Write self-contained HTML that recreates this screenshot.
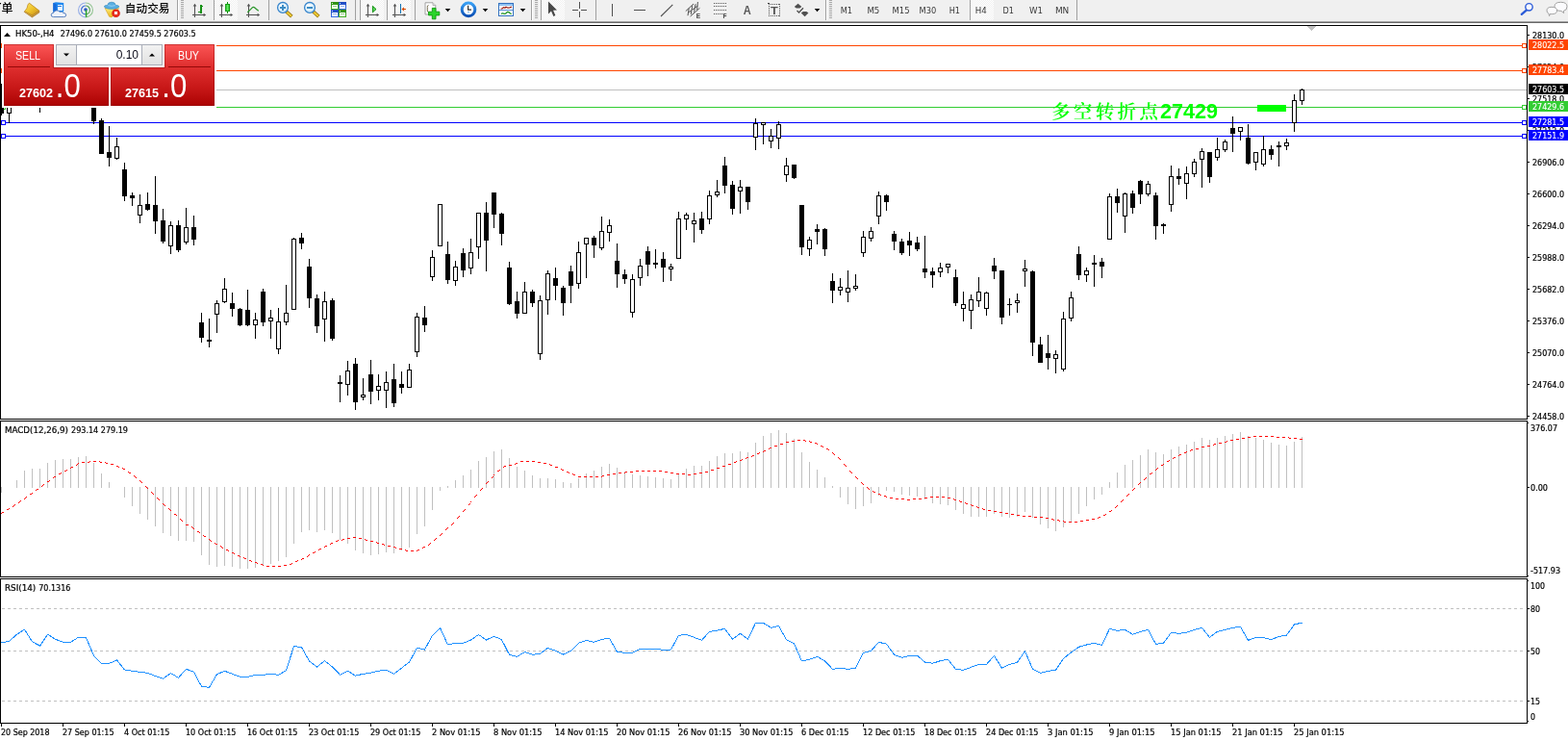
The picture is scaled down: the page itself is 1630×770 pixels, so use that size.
<!DOCTYPE html>
<html lang="zh"><head><meta charset="utf-8"><title>HK50-,H4</title>
<style>
html,body{margin:0;padding:0;background:#fff;width:1630px;height:770px;overflow:hidden}
svg{display:block;position:absolute;left:0;top:0}
svg text{font-family:"DejaVu Sans","Liberation Sans","Noto Sans CJK SC",sans-serif;white-space:pre}
svg text.lg{font-family:"Liberation Sans","Noto Sans CJK SC",sans-serif}
svg rect{shape-rendering:crispEdges}
</style></head><body>
<svg width="1630" height="770" viewBox="0 0 1630 770">
<g id="toolbar">
<defs><linearGradient id="gold" x1="0" y1="0" x2="1" y2="1"><stop offset="0" stop-color="#fbe36a"/><stop offset="0.5" stop-color="#eec32a"/><stop offset="1" stop-color="#c68a18"/></linearGradient><linearGradient id="yel" x1="0" y1="0" x2="0" y2="1"><stop offset="0" stop-color="#fff07a"/><stop offset="1" stop-color="#e9b21c"/></linearGradient><linearGradient id="grn" x1="0" y1="0" x2="1" y2="0"><stop offset="0" stop-color="#18b018"/><stop offset="0.5" stop-color="#6cf06c"/><stop offset="1" stop-color="#18b018"/></linearGradient><radialGradient id="lens" cx="0.4" cy="0.35" r="0.7"><stop offset="0" stop-color="#ffffff"/><stop offset="1" stop-color="#c4e6fa"/></radialGradient><linearGradient id="clk" x1="0" y1="0" x2="0" y2="1"><stop offset="0" stop-color="#3aa0f4"/><stop offset="1" stop-color="#0a4fb4"/></linearGradient><linearGradient id="blu" x1="0" y1="0" x2="0" y2="1"><stop offset="0" stop-color="#1c48c0"/><stop offset="1" stop-color="#3a6ee8"/></linearGradient><linearGradient id="grt" x1="0" y1="0" x2="0" y2="1"><stop offset="0" stop-color="#2c8c10"/><stop offset="1" stop-color="#46b028"/></linearGradient><pattern id="chk" width="2" height="2" patternUnits="userSpaceOnUse"><rect width="2" height="2" fill="#ffffff"/><rect width="1" height="1" fill="#f0f0f0"/><rect x="1" y="1" width="1" height="1" fill="#f0f0f0"/></pattern></defs>
<rect x="0" y="0" width="1630" height="22" fill="#f0f0f0"/>
<rect x="0" y="22" width="1630" height="1" fill="#a0a0a0"/>
<rect x="0" y="23" width="1630" height="1" fill="#696969"/>
<rect x="223" y="0" width="24" height="21" fill="url(#chk)"/>
<rect x="375" y="0" width="24" height="21" fill="url(#chk)"/>
<rect x="403" y="0" width="24" height="21" fill="url(#chk)"/>
<rect x="563" y="0" width="24" height="21" fill="url(#chk)"/>
<rect x="1009" y="0" width="24" height="21" fill="url(#chk)"/>
<rect x="184" y="0" width="1" height="21" fill="#a0a0a0"/>
<rect x="222" y="0" width="1" height="21" fill="#a0a0a0"/>
<rect x="279" y="0" width="1" height="21" fill="#a0a0a0"/>
<rect x="369" y="0" width="1" height="21" fill="#a0a0a0"/>
<rect x="374" y="0" width="1" height="21" fill="#a0a0a0"/>
<rect x="402" y="0" width="1" height="21" fill="#a0a0a0"/>
<rect x="431" y="0" width="1" height="21" fill="#a0a0a0"/>
<rect x="552" y="0" width="1" height="21" fill="#a0a0a0"/>
<rect x="562" y="0" width="1" height="21" fill="#a0a0a0"/>
<rect x="619" y="0" width="1" height="21" fill="#a0a0a0"/>
<rect x="858" y="0" width="1" height="21" fill="#a0a0a0"/>
<rect x="1008" y="0" width="1" height="21" fill="#a0a0a0"/>
<rect x="1119" y="0" width="1" height="21" fill="#a0a0a0"/>
<rect x="185" y="0" width="1" height="21" fill="#ffffff"/>
<rect x="553" y="0" width="1" height="21" fill="#ffffff"/>
<rect x="859" y="0" width="1" height="21" fill="#ffffff"/>
<rect x="188" y="0" width="3" height="1" fill="#a8a8a8"/>
<rect x="188" y="2" width="3" height="1" fill="#a8a8a8"/>
<rect x="188" y="4" width="3" height="1" fill="#a8a8a8"/>
<rect x="188" y="6" width="3" height="1" fill="#a8a8a8"/>
<rect x="188" y="8" width="3" height="1" fill="#a8a8a8"/>
<rect x="188" y="10" width="3" height="1" fill="#a8a8a8"/>
<rect x="188" y="12" width="3" height="1" fill="#a8a8a8"/>
<rect x="188" y="14" width="3" height="1" fill="#a8a8a8"/>
<rect x="188" y="16" width="3" height="1" fill="#a8a8a8"/>
<rect x="188" y="18" width="3" height="1" fill="#a8a8a8"/>
<rect x="556" y="0" width="3" height="1" fill="#a8a8a8"/>
<rect x="556" y="2" width="3" height="1" fill="#a8a8a8"/>
<rect x="556" y="4" width="3" height="1" fill="#a8a8a8"/>
<rect x="556" y="6" width="3" height="1" fill="#a8a8a8"/>
<rect x="556" y="8" width="3" height="1" fill="#a8a8a8"/>
<rect x="556" y="10" width="3" height="1" fill="#a8a8a8"/>
<rect x="556" y="12" width="3" height="1" fill="#a8a8a8"/>
<rect x="556" y="14" width="3" height="1" fill="#a8a8a8"/>
<rect x="556" y="16" width="3" height="1" fill="#a8a8a8"/>
<rect x="556" y="18" width="3" height="1" fill="#a8a8a8"/>
<rect x="862" y="0" width="3" height="1" fill="#a8a8a8"/>
<rect x="862" y="2" width="3" height="1" fill="#a8a8a8"/>
<rect x="862" y="4" width="3" height="1" fill="#a8a8a8"/>
<rect x="862" y="6" width="3" height="1" fill="#a8a8a8"/>
<rect x="862" y="8" width="3" height="1" fill="#a8a8a8"/>
<rect x="862" y="10" width="3" height="1" fill="#a8a8a8"/>
<rect x="862" y="12" width="3" height="1" fill="#a8a8a8"/>
<rect x="862" y="14" width="3" height="1" fill="#a8a8a8"/>
<rect x="862" y="16" width="3" height="1" fill="#a8a8a8"/>
<rect x="862" y="18" width="3" height="1" fill="#a8a8a8"/>
<text class="lg" x="13.4" y="12.5" font-size="12" font-weight="500" text-anchor="end" fill="#000">订单</text>
<text class="lg" x="129.8" y="12.5" font-size="11.6" font-weight="500" fill="#000" textLength="46.6" lengthAdjust="spacing">自动交易</text>
<path d="M30.6 3.4 L40.8 11.2 L40.8 13 L33.4 18 L25.3 12.4 Q28.6 9.4 29.4 4.2 Z" fill="#a87214" stroke="#a87214" stroke-width="0.6" stroke-linejoin="round"/>
<path d="M30.6 3.4 L40.6 11 L33.4 15.8 L25.6 11.6 Q28.6 9 29.4 4.2 Z" fill="url(#gold)" stroke="#c89628" stroke-width="0.5"/>
<path d="M26.2 12.6 L33.4 16.9 L40.4 12.4" fill="none" stroke="#e6c468" stroke-width="0.6"/>
<path d="M55.3 3 L58 2.3 L66.2 3 L66.2 12.5 L55.3 12.5 Z" fill="#1e88f0"/>
<path d="M55.3 3 L58.5 4.3 L58.5 12.5 L55.3 12.5 Z" fill="#1668d8"/>
<rect x="59.5" y="5.2" width="5.8" height="6" fill="#e8f4ff"/>
<rect x="60.3" y="6.2" width="4" height="1.2" fill="#2a7ae0"/>
<path d="M55.5 17.6 Q53 17.6 53.2 15.3 Q53.5 13.4 55.6 13.4 Q56 11.2 58.6 10.9 Q61 10.6 62.2 12.4 Q64.5 11.5 65.6 13.4 Q68.8 13.4 68.7 15.8 Q68.5 17.6 66.5 17.6 Z" fill="#eef3fb" stroke="#4a74b8" stroke-width="0.9"/>
<g fill="none" stroke-width="1.2"><path d="M89 3 A7.4 7.4 0 0 0 89 17.8" stroke="#7a9ae4" opacity="0.75"/><path d="M89 3 A7.4 7.4 0 0 1 89 17.8" stroke="#7ab87a" opacity="0.75"/><path d="M89 6 A4.4 4.4 0 0 0 89 14.8" stroke="#4470d4"/><path d="M89 6 A4.4 4.4 0 0 1 89 14.8" stroke="#58a858"/></g>
<circle cx="89" cy="10" r="1.8" fill="#2858c8"/>
<path d="M89.6 10.4 V17.8" stroke="#28a428" stroke-width="1.5" fill="none"/>
<path d="M109 8.2 L123.4 8.2 L122 12.5 L116 17.9 L113.6 17.3 Z" fill="url(#yel)" stroke="#d8a018" stroke-width="0.6"/>
<path d="M108.3 7 Q108.3 5.4 111.6 5.6 Q112.2 2.2 116 2.2 Q119.8 2.2 120.4 5.6 Q123.8 5.4 123.8 7 Q122 9.3 116 9.3 Q110 9.3 108.3 7 Z" fill="#5aaee2" stroke="#3a8cc0" stroke-width="0.7"/>
<path d="M112.4 5.6 Q116 7 119.8 5.6" fill="none" stroke="#9ad4f4" stroke-width="0.9"/>
<circle cx="120.5" cy="13.8" r="4.3" fill="#d81c0c"/>
<circle cx="120.5" cy="13.8" r="3.6" fill="#e83020"/>
<rect x="119" y="12.3" width="3" height="3" fill="#ffffff"/>
<g fill="#505050"><rect x="202" y="5" width="1" height="13"/><rect x="200" y="15" width="13" height="1"/><path d="M202.5 3.8 L204.3 6.4 L200.7 6.4 Z"/><path d="M214.2 15.5 L211.6 13.7 L211.6 17.3 Z"/></g>
<g fill="#159015"><rect x="208" y="5.3" width="1.5" height="8.5"/><rect x="208" y="5.8" width="3.3" height="1.2"/><rect x="206" y="12" width="3" height="1.2"/></g>
<g fill="#505050"><rect x="230" y="5" width="1" height="13"/><rect x="228" y="15" width="13" height="1"/><path d="M230.5 3.8 L232.3 6.4 L228.7 6.4 Z"/><path d="M242.2 15.5 L239.6 13.7 L239.6 17.3 Z"/></g>
<rect x="236" y="2.2" width="1.2" height="11.6" fill="#109010"/>
<rect x="234.6" y="4.2" width="4" height="7.4" fill="url(#grn)" stroke="#0e980e" stroke-width="0.9"/>
<g fill="#505050"><rect x="258" y="5" width="1" height="13"/><rect x="256" y="15" width="13" height="1"/><path d="M258.5 3.8 L260.3 6.4 L256.7 6.4 Z"/><path d="M270.2 15.5 L267.6 13.7 L267.6 17.3 Z"/></g>
<path d="M257.3 12.8 Q260 10.5 262 8.2 Q263.4 6.8 264.8 8 Q266.8 10 268.8 11.3" fill="none" stroke="#2a962a" stroke-width="1.2"/>
<path d="M297.6 12.0 L303.3 17.2" stroke="#8a6a10" stroke-width="3.6" stroke-linecap="butt"/>
<path d="M298.2 12.6 L303 16.9" stroke="#ecc832" stroke-width="2.2"/>
<circle cx="294" cy="7.9" r="5.4" fill="url(#lens)" stroke="#3a86cc" stroke-width="1.3"/>
<rect x="290.7" y="7" width="6.6" height="1.8" fill="#3d8cc4"/>
<rect x="293.1" y="4.6" width="1.8" height="6.6" fill="#3d8cc4"/>
<path d="M325.6 12.0 L331.3 17.2" stroke="#8a6a10" stroke-width="3.6" stroke-linecap="butt"/>
<path d="M326.2 12.6 L331 16.9" stroke="#ecc832" stroke-width="2.2"/>
<circle cx="322" cy="7.9" r="5.4" fill="url(#lens)" stroke="#3a86cc" stroke-width="1.3"/>
<rect x="318.7" y="7" width="6.6" height="1.8" fill="#3d8cc4"/>
<rect x="344" y="2" width="8" height="8" fill="url(#grt)"/>
<rect x="345.3" y="5" width="5.6" height="4" fill="#ffffff"/>
<rect x="346.2" y="6" width="3.8" height="1" fill="#9ad088"/>
<rect x="345" y="3" width="1" height="1" fill="#ffffff" opacity="0.8"/>
<rect x="352" y="2" width="8" height="8" fill="url(#blu)"/>
<rect x="353.3" y="5" width="5.6" height="4" fill="#ffffff"/>
<rect x="354.2" y="6" width="3.8" height="1" fill="#9ab4f0"/>
<rect x="353" y="3" width="1" height="1" fill="#ffffff" opacity="0.8"/>
<rect x="344" y="10" width="8" height="8" fill="url(#blu)"/>
<rect x="345.3" y="13" width="5.6" height="4" fill="#ffffff"/>
<rect x="346.2" y="14" width="3.8" height="1" fill="#9ab4f0"/>
<rect x="345" y="11" width="1" height="1" fill="#ffffff" opacity="0.8"/>
<rect x="352" y="10" width="8" height="8" fill="url(#grt)"/>
<rect x="353.3" y="13" width="5.6" height="4" fill="#ffffff"/>
<rect x="354.2" y="14" width="3.8" height="1" fill="#9ad088"/>
<rect x="353" y="11" width="1" height="1" fill="#ffffff" opacity="0.8"/>
<g fill="#505050"><rect x="382" y="5" width="1" height="13"/><rect x="380" y="15" width="13" height="1"/><path d="M382.5 3.8 L384.3 6.4 L380.7 6.4 Z"/><path d="M394.2 15.5 L391.6 13.7 L391.6 17.3 Z"/></g>
<path d="M387.4 6.3 L391 9.6 L387.4 12.8 Z" fill="#5cd85c" stroke="#109010" stroke-width="1"/>
<g fill="#505050"><rect x="410" y="5" width="1" height="13"/><rect x="408" y="15" width="13" height="1"/><path d="M410.5 3.8 L412.3 6.4 L408.7 6.4 Z"/><path d="M422.2 15.5 L419.6 13.7 L419.6 17.3 Z"/></g>
<rect x="416" y="4" width="1.2" height="10" fill="#1070b0"/>
<path d="M417.4 9.5 L420.2 7.2 L419.8 9 L422 9 L422 10 L419.8 10 L420.2 11.8 Z" fill="#d84800"/>
<path d="M462.7 9 L468.3 9 L465.5 12.2 Z" fill="#000"/>
<path d="M501.7 9 L507.3 9 L504.5 12.2 Z" fill="#000"/>
<path d="M540.7 9 L546.3 9 L543.5 12.2 Z" fill="#000"/>
<path d="M846.7 9 L852.3 9 L849.5 12.2 Z" fill="#000"/>
<path d="M442 2.8 L450 2.8 L452.8 5.6 L452.8 15 L442 15 Z" fill="#fdfdfd" stroke="#9a9a9a" stroke-width="0.9"/>
<path d="M450 2.8 L450 5.6 L452.8 5.6" fill="#e8e8e8" stroke="#9a9a9a" stroke-width="0.7"/>
<path d="M445.5 5.5 Q444 5.5 444.3 7.5 L444.3 11 Q444.3 12.6 445.8 12.6" fill="none" stroke="#6a6040" stroke-width="0.9"/>
<path d="M449.3 8.4 H453 V12.2 H456.8 V15.9 H453 V19.8 H449.3 V15.9 H445.5 V12.2 H449.3 Z" fill="#2ad42a" stroke="#0e9a0e" stroke-width="0.9"/>
<circle cx="487" cy="9.9" r="6.8" fill="#ffffff" stroke="url(#clk)" stroke-width="3"/>
<path d="M486.6 5.8 V10.2 H490" fill="none" stroke="#303030" stroke-width="1.2"/>
<rect x="485.6" y="12.2" width="2.6" height="0.9" fill="#80b8f0"/>
<rect x="518.5" y="3.3" width="15.4" height="13.4" fill="#ffffff" stroke="#3572c0" stroke-width="1.1"/>
<rect x="519" y="3.8" width="14.4" height="2" fill="#8ec0f0"/>
<rect x="519" y="10.2" width="14.4" height="1.2" fill="#5a90d8"/>
<path d="M520.5 9 L522 9 L523.5 7.6 L525 8.2 L526 7.2 L528 8.2 L530 7.8 L532 7" fill="none" stroke="#9a1a10" stroke-width="1.2"/>
<path d="M521 14.4 L522.6 13.8 L524 14.4 L525.6 14.2 L527.4 12.4 L529 12.6 L530.4 14 L531.8 14.4" fill="none" stroke="#189018" stroke-width="1.2"/>
<path d="M570 1.6 L570 14.4 L573 11.6 L575.4 17 L577.4 16 L575 10.8 L579 10.6 Z" fill="#484848"/>
<g fill="#505050"><rect x="602" y="1.6" width="1" height="7"/><rect x="602" y="11.6" width="1" height="6.6"/><rect x="595" y="9.8" width="6" height="1"/><rect x="604" y="9.8" width="6" height="1"/></g>
<rect x="636" y="4" width="1" height="13" fill="#505050"/>
<rect x="659" y="10" width="12" height="1" fill="#505050"/>
<path d="M687 17 L699.3 4.8" stroke="#505050" stroke-width="1.1" fill="none"/>
<g stroke="#505050" fill="none" stroke-width="1"><path d="M712.8 11.6 L721 4"/><path d="M717.6 17 L727.4 8.4"/><path d="M715 16.2 L716.2 8.6"/><path d="M718.3 14.8 L719.6 6.2"/><path d="M721.6 12.6 L723 4.2"/><path d="M724.6 10.4 L725.4 2"/><path d="M716 12.5 L718.6 11.2 M719.4 10.2 L722 8.6 M722.8 7.8 L725.2 6.2"/></g>
<text x="723.8" y="18.8" class="lg" font-size="6.5" font-weight="bold" fill="#404040">E</text>
<rect x="742" y="3" width="1" height="1" fill="#505050"/>
<rect x="744" y="3" width="1" height="1" fill="#505050"/>
<rect x="746" y="3" width="1" height="1" fill="#505050"/>
<rect x="748" y="3" width="1" height="1" fill="#505050"/>
<rect x="750" y="3" width="1" height="1" fill="#505050"/>
<rect x="752" y="3" width="1" height="1" fill="#505050"/>
<rect x="754" y="3" width="1" height="1" fill="#505050"/>
<rect x="742" y="6" width="1" height="1" fill="#505050"/>
<rect x="744" y="6" width="1" height="1" fill="#505050"/>
<rect x="746" y="6" width="1" height="1" fill="#505050"/>
<rect x="748" y="6" width="1" height="1" fill="#505050"/>
<rect x="750" y="6" width="1" height="1" fill="#505050"/>
<rect x="752" y="6" width="1" height="1" fill="#505050"/>
<rect x="754" y="6" width="1" height="1" fill="#505050"/>
<rect x="742" y="10" width="1" height="1" fill="#505050"/>
<rect x="744" y="10" width="1" height="1" fill="#505050"/>
<rect x="746" y="10" width="1" height="1" fill="#505050"/>
<rect x="748" y="10" width="1" height="1" fill="#505050"/>
<rect x="750" y="10" width="1" height="1" fill="#505050"/>
<rect x="752" y="10" width="1" height="1" fill="#505050"/>
<rect x="754" y="10" width="1" height="1" fill="#505050"/>
<rect x="742" y="14" width="1" height="1" fill="#505050"/>
<rect x="744" y="14" width="1" height="1" fill="#505050"/>
<rect x="746" y="14" width="1" height="1" fill="#505050"/>
<rect x="748" y="14" width="1" height="1" fill="#505050"/>
<rect x="750" y="14" width="1" height="1" fill="#505050"/>
<text x="751.6" y="18.8" class="lg" font-size="6.5" font-weight="bold" fill="#404040">F</text>
<text class="lg" x="776.7" y="14.8" font-size="12" font-weight="bold" text-anchor="middle" fill="#585858" textLength="8" lengthAdjust="spacingAndGlyphs">A</text>
<rect x="799" y="4" width="1" height="1" fill="#505050"/><rect x="799" y="16" width="1" height="1" fill="#505050"/>
<rect x="801" y="4" width="1" height="1" fill="#505050"/><rect x="801" y="16" width="1" height="1" fill="#505050"/>
<rect x="803" y="4" width="1" height="1" fill="#505050"/><rect x="803" y="16" width="1" height="1" fill="#505050"/>
<rect x="805" y="4" width="1" height="1" fill="#505050"/><rect x="805" y="16" width="1" height="1" fill="#505050"/>
<rect x="807" y="4" width="1" height="1" fill="#505050"/><rect x="807" y="16" width="1" height="1" fill="#505050"/>
<rect x="809" y="4" width="1" height="1" fill="#505050"/><rect x="809" y="16" width="1" height="1" fill="#505050"/>
<rect x="799" y="4" width="1" height="1" fill="#505050"/><rect x="810" y="4" width="1" height="1" fill="#505050"/>
<rect x="799" y="6" width="1" height="1" fill="#505050"/><rect x="810" y="6" width="1" height="1" fill="#505050"/>
<rect x="799" y="8" width="1" height="1" fill="#505050"/><rect x="810" y="8" width="1" height="1" fill="#505050"/>
<rect x="799" y="10" width="1" height="1" fill="#505050"/><rect x="810" y="10" width="1" height="1" fill="#505050"/>
<rect x="799" y="12" width="1" height="1" fill="#505050"/><rect x="810" y="12" width="1" height="1" fill="#505050"/>
<rect x="799" y="14" width="1" height="1" fill="#505050"/><rect x="810" y="14" width="1" height="1" fill="#505050"/>
<rect x="799" y="16" width="1" height="1" fill="#505050"/><rect x="810" y="16" width="1" height="1" fill="#505050"/>
<rect x="798" y="3" width="2" height="1.3" fill="#404040"/>
<text class="lg" x="804.9" y="14.8" font-size="11" font-weight="bold" text-anchor="middle" fill="#555555" textLength="7.8" lengthAdjust="spacingAndGlyphs">T</text>
<g fill="#505050"><path d="M829.6 3.8 L833.4 7 L831.4 8.4 L827.8 8.4 L825.8 7 Z"/><path d="M836.6 17.2 L840.4 13.4 L838.4 12 L834.8 12 L832.8 13.4 Z"/></g>
<path d="M828.5 11 L830.5 13 L835 8.2" fill="none" stroke="#505050" stroke-width="1.3"/>
<text x="873.7" y="13.8" font-size="8" fill="#3a3a3a" textLength="12.3" lengthAdjust="spacingAndGlyphs">M1</text>
<text x="901.4" y="13.8" font-size="8" fill="#3a3a3a" textLength="13" lengthAdjust="spacingAndGlyphs">M5</text>
<text x="927.5" y="13.8" font-size="8" fill="#3a3a3a" textLength="18" lengthAdjust="spacingAndGlyphs">M15</text>
<text x="955.5" y="13.8" font-size="8" fill="#3a3a3a" textLength="17.7" lengthAdjust="spacingAndGlyphs">M30</text>
<text x="986.7" y="13.8" font-size="8" fill="#3a3a3a" textLength="11.3" lengthAdjust="spacingAndGlyphs">H1</text>
<text x="1013.8" y="13.8" font-size="8" fill="#3a3a3a" textLength="12" lengthAdjust="spacingAndGlyphs">H4</text>
<text x="1042.6" y="13.8" font-size="8" fill="#3a3a3a" textLength="11.4" lengthAdjust="spacingAndGlyphs">D1</text>
<text x="1070" y="13.8" font-size="8" fill="#3a3a3a" textLength="14" lengthAdjust="spacingAndGlyphs">W1</text>
<text x="1096.9" y="13.8" font-size="8" fill="#3a3a3a" textLength="14.4" lengthAdjust="spacingAndGlyphs">MN</text>
<path d="M1587.3 10.2 L1581.8 14.8" stroke="#2c5cd8" stroke-width="2.4" stroke-linecap="round"/>
<circle cx="1589.5" cy="7.3" r="3.7" fill="#f8f8ff" stroke="#2c5cd8" stroke-width="1.4"/>
<path d="M1616 6.5 Q1616 2.3 1622.5 2.3 Q1629 2.3 1629 6.8 Q1629 10.8 1625.5 11.2 L1625.6 13.6 L1623 11.4 Q1616 11.4 1616 6.5 Z" fill="#fbfbfd" stroke="#989898" stroke-width="0.9"/>
<path d="M1608 11 Q1608 7.3 1613 7.3 Q1618.5 7.3 1618.5 11 Q1618.5 14.6 1613.5 14.6 L1611.2 14.6 L1610.6 16.6 L1610 14.2 Q1608 13.4 1608 11 Z" fill="#fbfbfd" stroke="#989898" stroke-width="0.9"/>
</g>
<g id="borders" fill="#000">
<rect x="0" y="26" width="1588" height="1" fill="#000"/>
<rect x="0" y="435" width="1588" height="1" fill="#000"/>
<rect x="0" y="26" width="1" height="410" fill="#000"/>
<rect x="1587" y="26" width="1" height="410" fill="#000"/>
<rect x="0" y="437" width="1588" height="1" fill="#000"/>
<rect x="0" y="599" width="1588" height="1" fill="#000"/>
<rect x="0" y="437" width="1" height="163" fill="#000"/>
<rect x="1587" y="437" width="1" height="163" fill="#000"/>
<rect x="0" y="601" width="1588" height="1" fill="#000"/>
<rect x="0" y="751" width="1588" height="1" fill="#000"/>
<rect x="0" y="601" width="1" height="151" fill="#000"/>
<rect x="1587" y="601" width="1" height="151" fill="#000"/>
</g>
<g id="hlines">
<rect x="1" y="47" width="1586" height="1" fill="#ff4500"/>
<rect x="1" y="45" width="5" height="5" fill="#ff4500"/>
<rect x="2" y="46" width="3" height="3" fill="#fff"/>
<rect x="1582" y="45" width="5" height="5" fill="#ff4500"/>
<rect x="1583" y="46" width="3" height="3" fill="#fff"/>
<rect x="1" y="73" width="1586" height="1" fill="#ff4500"/>
<rect x="1" y="71" width="5" height="5" fill="#ff4500"/>
<rect x="2" y="72" width="3" height="3" fill="#fff"/>
<rect x="1582" y="71" width="5" height="5" fill="#ff4500"/>
<rect x="1583" y="72" width="3" height="3" fill="#fff"/>
<rect x="1" y="111" width="1586" height="1" fill="#32cd32"/>
<rect x="1" y="109" width="5" height="5" fill="#32cd32"/>
<rect x="2" y="110" width="3" height="3" fill="#fff"/>
<rect x="1582" y="109" width="5" height="5" fill="#32cd32"/>
<rect x="1583" y="110" width="3" height="3" fill="#fff"/>
<rect x="1" y="127" width="1586" height="1" fill="#0000ff"/>
<rect x="1" y="125" width="5" height="5" fill="#0000ff"/>
<rect x="2" y="126" width="3" height="3" fill="#fff"/>
<rect x="1582" y="125" width="5" height="5" fill="#0000ff"/>
<rect x="1583" y="126" width="3" height="3" fill="#fff"/>
<rect x="1" y="141" width="1586" height="1" fill="#0000ff"/>
<rect x="1" y="139" width="5" height="5" fill="#0000ff"/>
<rect x="2" y="140" width="3" height="3" fill="#fff"/>
<rect x="1582" y="139" width="5" height="5" fill="#0000ff"/>
<rect x="1583" y="140" width="3" height="3" fill="#fff"/>
</g>
<rect x="1359" y="27" width="9" height="1" fill="#c0c0c0"/>
<rect x="1360" y="28" width="7" height="1" fill="#c0c0c0"/>
<rect x="1361" y="29" width="5" height="1" fill="#c0c0c0"/>
<rect x="1362" y="30" width="3" height="1" fill="#c0c0c0"/>
<rect x="1363" y="31" width="1" height="1" fill="#c0c0c0"/>
<rect x="1307" y="109" width="30" height="7" fill="#00ff00"/>
<text x="1093" y="122.5" font-size="19.5" font-weight="600" fill="#00ff00" style="font-family:'Liberation Serif','Noto Serif CJK SC',serif" letter-spacing="3.35">多空转折点</text>
<text class="lg" x="1206" y="123" font-size="21.5" font-weight="bold" fill="#00ff00" textLength="60" lengthAdjust="spacingAndGlyphs">27429</text>
<rect x="1" y="93" width="1586" height="1" fill="#c0c0c0"/>
<g id="candles">
<rect x="1" y="87" width="1" height="33" fill="#000"/>
<rect x="-1" y="87" width="5" height="31" fill="#000"/>
<rect x="9" y="100" width="1" height="28" fill="#000"/>
<rect x="7" y="105" width="5" height="13" fill="#000"/>
<rect x="8" y="106" width="3" height="11" fill="#fff"/>
<rect x="41" y="100" width="1" height="17" fill="#000"/>
<rect x="39" y="102" width="5" height="6" fill="#000"/>
<rect x="97" y="100" width="1" height="29" fill="#000"/>
<rect x="95" y="104" width="5" height="22" fill="#000"/>
<rect x="105" y="123" width="1" height="37" fill="#000"/>
<rect x="103" y="125" width="5" height="35" fill="#000"/>
<rect x="113" y="131" width="1" height="42" fill="#000"/>
<rect x="111" y="158" width="5" height="6" fill="#000"/>
<rect x="121" y="143" width="1" height="23" fill="#000"/>
<rect x="119" y="152" width="5" height="13" fill="#000"/>
<rect x="120" y="153" width="3" height="11" fill="#fff"/>
<rect x="129" y="169" width="1" height="40" fill="#000"/>
<rect x="127" y="176" width="5" height="28" fill="#000"/>
<rect x="137" y="200" width="1" height="14" fill="#000"/>
<rect x="135" y="203" width="5" height="3" fill="#000"/>
<rect x="145" y="202" width="1" height="30" fill="#000"/>
<rect x="143" y="213" width="5" height="11" fill="#000"/>
<rect x="144" y="214" width="3" height="9" fill="#fff"/>
<rect x="153" y="200" width="1" height="19" fill="#000"/>
<rect x="151" y="212" width="5" height="6" fill="#000"/>
<rect x="161" y="183" width="1" height="60" fill="#000"/>
<rect x="159" y="213" width="5" height="17" fill="#000"/>
<rect x="169" y="217" width="1" height="36" fill="#000"/>
<rect x="167" y="229" width="5" height="22" fill="#000"/>
<rect x="177" y="230" width="1" height="34" fill="#000"/>
<rect x="175" y="234" width="5" height="22" fill="#000"/>
<rect x="176" y="235" width="3" height="20" fill="#fff"/>
<rect x="185" y="229" width="1" height="33" fill="#000"/>
<rect x="183" y="234" width="5" height="26" fill="#000"/>
<rect x="193" y="216" width="1" height="38" fill="#000"/>
<rect x="191" y="236" width="5" height="16" fill="#000"/>
<rect x="192" y="237" width="3" height="14" fill="#fff"/>
<rect x="201" y="224" width="1" height="31" fill="#000"/>
<rect x="199" y="236" width="5" height="13" fill="#000"/>
<rect x="209" y="325" width="1" height="31" fill="#000"/>
<rect x="207" y="335" width="5" height="16" fill="#000"/>
<rect x="217" y="331" width="1" height="30" fill="#000"/>
<rect x="215" y="353" width="5" height="2" fill="#000"/>
<rect x="225" y="312" width="1" height="34" fill="#000"/>
<rect x="223" y="315" width="5" height="12" fill="#000"/>
<rect x="224" y="316" width="3" height="10" fill="#fff"/>
<rect x="233" y="289" width="1" height="26" fill="#000"/>
<rect x="231" y="300" width="5" height="14" fill="#000"/>
<rect x="232" y="301" width="3" height="12" fill="#fff"/>
<rect x="241" y="304" width="1" height="25" fill="#000"/>
<rect x="239" y="315" width="5" height="6" fill="#000"/>
<rect x="249" y="320" width="1" height="19" fill="#000"/>
<rect x="247" y="321" width="5" height="17" fill="#000"/>
<rect x="257" y="301" width="1" height="38" fill="#000"/>
<rect x="255" y="322" width="5" height="16" fill="#000"/>
<rect x="265" y="325" width="1" height="27" fill="#000"/>
<rect x="263" y="332" width="5" height="6" fill="#000"/>
<rect x="264" y="333" width="3" height="4" fill="#fff"/>
<rect x="273" y="300" width="1" height="39" fill="#000"/>
<rect x="271" y="303" width="5" height="32" fill="#000"/>
<rect x="281" y="322" width="1" height="30" fill="#000"/>
<rect x="279" y="330" width="5" height="4" fill="#000"/>
<rect x="280" y="331" width="3" height="2" fill="#fff"/>
<rect x="289" y="320" width="1" height="48" fill="#000"/>
<rect x="287" y="334" width="5" height="29" fill="#000"/>
<rect x="288" y="335" width="3" height="27" fill="#fff"/>
<rect x="297" y="296" width="1" height="42" fill="#000"/>
<rect x="295" y="325" width="5" height="10" fill="#000"/>
<rect x="296" y="326" width="3" height="8" fill="#fff"/>
<rect x="305" y="247" width="1" height="75" fill="#000"/>
<rect x="303" y="248" width="5" height="74" fill="#000"/>
<rect x="304" y="249" width="3" height="72" fill="#fff"/>
<rect x="313" y="242" width="1" height="17" fill="#000"/>
<rect x="311" y="247" width="5" height="6" fill="#000"/>
<rect x="321" y="269" width="1" height="51" fill="#000"/>
<rect x="319" y="277" width="5" height="33" fill="#000"/>
<rect x="329" y="306" width="1" height="40" fill="#000"/>
<rect x="327" y="310" width="5" height="29" fill="#000"/>
<rect x="337" y="303" width="1" height="52" fill="#000"/>
<rect x="335" y="313" width="5" height="19" fill="#000"/>
<rect x="336" y="314" width="3" height="17" fill="#fff"/>
<rect x="345" y="310" width="1" height="44" fill="#000"/>
<rect x="343" y="312" width="5" height="40" fill="#000"/>
<rect x="353" y="390" width="1" height="28" fill="#000"/>
<rect x="351" y="397" width="5" height="2" fill="#000"/>
<rect x="361" y="375" width="1" height="36" fill="#000"/>
<rect x="359" y="385" width="5" height="15" fill="#000"/>
<rect x="360" y="386" width="3" height="13" fill="#fff"/>
<rect x="369" y="372" width="1" height="54" fill="#000"/>
<rect x="367" y="378" width="5" height="40" fill="#000"/>
<rect x="377" y="393" width="1" height="23" fill="#000"/>
<rect x="375" y="410" width="5" height="3" fill="#000"/>
<rect x="376" y="411" width="3" height="1" fill="#fff"/>
<rect x="385" y="374" width="1" height="46" fill="#000"/>
<rect x="383" y="389" width="5" height="18" fill="#000"/>
<rect x="393" y="389" width="1" height="27" fill="#000"/>
<rect x="391" y="401" width="5" height="5" fill="#000"/>
<rect x="392" y="402" width="3" height="3" fill="#fff"/>
<rect x="401" y="386" width="1" height="38" fill="#000"/>
<rect x="399" y="397" width="5" height="9" fill="#000"/>
<rect x="400" y="398" width="3" height="7" fill="#fff"/>
<rect x="409" y="378" width="1" height="45" fill="#000"/>
<rect x="407" y="394" width="5" height="25" fill="#000"/>
<rect x="417" y="386" width="1" height="23" fill="#000"/>
<rect x="415" y="399" width="5" height="4" fill="#000"/>
<rect x="425" y="378" width="1" height="25" fill="#000"/>
<rect x="423" y="384" width="5" height="19" fill="#000"/>
<rect x="424" y="385" width="3" height="17" fill="#fff"/>
<rect x="433" y="325" width="1" height="46" fill="#000"/>
<rect x="431" y="329" width="5" height="37" fill="#000"/>
<rect x="432" y="330" width="3" height="35" fill="#fff"/>
<rect x="441" y="318" width="1" height="27" fill="#000"/>
<rect x="439" y="330" width="5" height="8" fill="#000"/>
<rect x="449" y="260" width="1" height="32" fill="#000"/>
<rect x="447" y="267" width="5" height="21" fill="#000"/>
<rect x="448" y="268" width="3" height="19" fill="#fff"/>
<rect x="457" y="212" width="1" height="44" fill="#000"/>
<rect x="455" y="212" width="5" height="44" fill="#000"/>
<rect x="456" y="213" width="3" height="42" fill="#fff"/>
<rect x="465" y="251" width="1" height="44" fill="#000"/>
<rect x="463" y="264" width="5" height="27" fill="#000"/>
<rect x="473" y="271" width="1" height="26" fill="#000"/>
<rect x="471" y="277" width="5" height="15" fill="#000"/>
<rect x="472" y="278" width="3" height="13" fill="#fff"/>
<rect x="481" y="258" width="1" height="30" fill="#000"/>
<rect x="479" y="263" width="5" height="18" fill="#000"/>
<rect x="489" y="248" width="1" height="37" fill="#000"/>
<rect x="487" y="262" width="5" height="17" fill="#000"/>
<rect x="488" y="263" width="3" height="15" fill="#fff"/>
<rect x="497" y="221" width="1" height="48" fill="#000"/>
<rect x="495" y="221" width="5" height="36" fill="#000"/>
<rect x="496" y="222" width="3" height="34" fill="#fff"/>
<rect x="505" y="210" width="1" height="72" fill="#000"/>
<rect x="503" y="221" width="5" height="29" fill="#000"/>
<rect x="513" y="200" width="1" height="37" fill="#000"/>
<rect x="511" y="200" width="5" height="23" fill="#000"/>
<rect x="521" y="221" width="1" height="34" fill="#000"/>
<rect x="519" y="222" width="5" height="21" fill="#000"/>
<rect x="529" y="272" width="1" height="45" fill="#000"/>
<rect x="527" y="278" width="5" height="38" fill="#000"/>
<rect x="537" y="303" width="1" height="28" fill="#000"/>
<rect x="535" y="313" width="5" height="13" fill="#000"/>
<rect x="545" y="293" width="1" height="33" fill="#000"/>
<rect x="543" y="303" width="5" height="23" fill="#000"/>
<rect x="544" y="304" width="3" height="21" fill="#fff"/>
<rect x="553" y="301" width="1" height="18" fill="#000"/>
<rect x="551" y="303" width="5" height="12" fill="#000"/>
<rect x="561" y="307" width="1" height="67" fill="#000"/>
<rect x="559" y="312" width="5" height="56" fill="#000"/>
<rect x="560" y="313" width="3" height="54" fill="#fff"/>
<rect x="569" y="281" width="1" height="46" fill="#000"/>
<rect x="567" y="284" width="5" height="28" fill="#000"/>
<rect x="568" y="285" width="3" height="26" fill="#fff"/>
<rect x="577" y="278" width="1" height="34" fill="#000"/>
<rect x="575" y="289" width="5" height="8" fill="#000"/>
<rect x="585" y="297" width="1" height="31" fill="#000"/>
<rect x="583" y="299" width="5" height="16" fill="#000"/>
<rect x="593" y="276" width="1" height="39" fill="#000"/>
<rect x="591" y="282" width="5" height="15" fill="#000"/>
<rect x="601" y="251" width="1" height="49" fill="#000"/>
<rect x="599" y="262" width="5" height="33" fill="#000"/>
<rect x="600" y="263" width="3" height="31" fill="#fff"/>
<rect x="609" y="247" width="1" height="42" fill="#000"/>
<rect x="607" y="247" width="5" height="7" fill="#000"/>
<rect x="608" y="248" width="3" height="5" fill="#fff"/>
<rect x="617" y="245" width="1" height="23" fill="#000"/>
<rect x="615" y="247" width="5" height="8" fill="#000"/>
<rect x="625" y="225" width="1" height="35" fill="#000"/>
<rect x="623" y="240" width="5" height="18" fill="#000"/>
<rect x="624" y="241" width="3" height="16" fill="#fff"/>
<rect x="633" y="228" width="1" height="23" fill="#000"/>
<rect x="631" y="234" width="5" height="8" fill="#000"/>
<rect x="632" y="235" width="3" height="6" fill="#fff"/>
<rect x="641" y="253" width="1" height="46" fill="#000"/>
<rect x="639" y="271" width="5" height="14" fill="#000"/>
<rect x="649" y="280" width="1" height="15" fill="#000"/>
<rect x="647" y="285" width="5" height="5" fill="#000"/>
<rect x="657" y="285" width="1" height="45" fill="#000"/>
<rect x="655" y="290" width="5" height="35" fill="#000"/>
<rect x="656" y="291" width="3" height="33" fill="#fff"/>
<rect x="665" y="269" width="1" height="28" fill="#000"/>
<rect x="663" y="276" width="5" height="13" fill="#000"/>
<rect x="664" y="277" width="3" height="11" fill="#fff"/>
<rect x="673" y="256" width="1" height="31" fill="#000"/>
<rect x="671" y="261" width="5" height="14" fill="#000"/>
<rect x="681" y="259" width="1" height="20" fill="#000"/>
<rect x="679" y="273" width="5" height="2" fill="#000"/>
<rect x="689" y="262" width="1" height="31" fill="#000"/>
<rect x="687" y="269" width="5" height="9" fill="#000"/>
<rect x="697" y="274" width="1" height="18" fill="#000"/>
<rect x="695" y="277" width="5" height="3" fill="#000"/>
<rect x="696" y="278" width="3" height="1" fill="#fff"/>
<rect x="705" y="220" width="1" height="49" fill="#000"/>
<rect x="703" y="227" width="5" height="42" fill="#000"/>
<rect x="704" y="228" width="3" height="40" fill="#fff"/>
<rect x="713" y="221" width="1" height="18" fill="#000"/>
<rect x="711" y="223" width="5" height="5" fill="#000"/>
<rect x="712" y="224" width="3" height="3" fill="#fff"/>
<rect x="721" y="221" width="1" height="31" fill="#000"/>
<rect x="719" y="229" width="5" height="4" fill="#000"/>
<rect x="720" y="230" width="3" height="2" fill="#fff"/>
<rect x="729" y="220" width="1" height="23" fill="#000"/>
<rect x="727" y="227" width="5" height="12" fill="#000"/>
<rect x="737" y="198" width="1" height="35" fill="#000"/>
<rect x="735" y="203" width="5" height="25" fill="#000"/>
<rect x="736" y="204" width="3" height="23" fill="#fff"/>
<rect x="745" y="187" width="1" height="18" fill="#000"/>
<rect x="743" y="199" width="5" height="4" fill="#000"/>
<rect x="744" y="200" width="3" height="2" fill="#fff"/>
<rect x="753" y="163" width="1" height="38" fill="#000"/>
<rect x="751" y="172" width="5" height="21" fill="#000"/>
<rect x="761" y="188" width="1" height="35" fill="#000"/>
<rect x="759" y="192" width="5" height="25" fill="#000"/>
<rect x="769" y="187" width="1" height="35" fill="#000"/>
<rect x="767" y="194" width="5" height="5" fill="#000"/>
<rect x="768" y="195" width="3" height="3" fill="#fff"/>
<rect x="777" y="194" width="1" height="24" fill="#000"/>
<rect x="775" y="194" width="5" height="16" fill="#000"/>
<rect x="785" y="123" width="1" height="33" fill="#000"/>
<rect x="783" y="128" width="5" height="15" fill="#000"/>
<rect x="784" y="129" width="3" height="13" fill="#fff"/>
<rect x="793" y="127" width="1" height="23" fill="#000"/>
<rect x="791" y="127" width="5" height="3" fill="#000"/>
<rect x="792" y="128" width="3" height="1" fill="#fff"/>
<rect x="801" y="134" width="1" height="20" fill="#000"/>
<rect x="799" y="141" width="5" height="6" fill="#000"/>
<rect x="800" y="142" width="3" height="4" fill="#fff"/>
<rect x="809" y="126" width="1" height="29" fill="#000"/>
<rect x="807" y="129" width="5" height="15" fill="#000"/>
<rect x="808" y="130" width="3" height="13" fill="#fff"/>
<rect x="817" y="164" width="1" height="25" fill="#000"/>
<rect x="815" y="172" width="5" height="10" fill="#000"/>
<rect x="816" y="173" width="3" height="8" fill="#fff"/>
<rect x="825" y="171" width="1" height="15" fill="#000"/>
<rect x="823" y="171" width="5" height="14" fill="#000"/>
<rect x="833" y="213" width="1" height="52" fill="#000"/>
<rect x="831" y="213" width="5" height="44" fill="#000"/>
<rect x="841" y="246" width="1" height="20" fill="#000"/>
<rect x="839" y="249" width="5" height="10" fill="#000"/>
<rect x="840" y="250" width="3" height="8" fill="#fff"/>
<rect x="849" y="233" width="1" height="21" fill="#000"/>
<rect x="847" y="238" width="5" height="3" fill="#000"/>
<rect x="857" y="237" width="1" height="29" fill="#000"/>
<rect x="855" y="238" width="5" height="21" fill="#000"/>
<rect x="865" y="284" width="1" height="31" fill="#000"/>
<rect x="863" y="292" width="5" height="10" fill="#000"/>
<rect x="873" y="289" width="1" height="18" fill="#000"/>
<rect x="871" y="298" width="5" height="4" fill="#000"/>
<rect x="872" y="299" width="3" height="2" fill="#fff"/>
<rect x="881" y="281" width="1" height="33" fill="#000"/>
<rect x="879" y="299" width="5" height="5" fill="#000"/>
<rect x="880" y="300" width="3" height="3" fill="#fff"/>
<rect x="889" y="285" width="1" height="17" fill="#000"/>
<rect x="887" y="297" width="5" height="3" fill="#000"/>
<rect x="888" y="298" width="3" height="1" fill="#fff"/>
<rect x="897" y="240" width="1" height="27" fill="#000"/>
<rect x="895" y="246" width="5" height="17" fill="#000"/>
<rect x="896" y="247" width="3" height="15" fill="#fff"/>
<rect x="905" y="236" width="1" height="15" fill="#000"/>
<rect x="903" y="240" width="5" height="8" fill="#000"/>
<rect x="904" y="241" width="3" height="6" fill="#fff"/>
<rect x="913" y="199" width="1" height="34" fill="#000"/>
<rect x="911" y="203" width="5" height="22" fill="#000"/>
<rect x="912" y="204" width="3" height="20" fill="#fff"/>
<rect x="921" y="202" width="1" height="17" fill="#000"/>
<rect x="919" y="203" width="5" height="7" fill="#000"/>
<rect x="929" y="240" width="1" height="20" fill="#000"/>
<rect x="927" y="243" width="5" height="8" fill="#000"/>
<rect x="937" y="248" width="1" height="17" fill="#000"/>
<rect x="935" y="251" width="5" height="12" fill="#000"/>
<rect x="945" y="241" width="1" height="25" fill="#000"/>
<rect x="943" y="250" width="5" height="5" fill="#000"/>
<rect x="953" y="246" width="1" height="15" fill="#000"/>
<rect x="951" y="252" width="5" height="7" fill="#000"/>
<rect x="961" y="245" width="1" height="44" fill="#000"/>
<rect x="959" y="279" width="5" height="4" fill="#000"/>
<rect x="969" y="278" width="1" height="21" fill="#000"/>
<rect x="967" y="282" width="5" height="4" fill="#000"/>
<rect x="977" y="273" width="1" height="15" fill="#000"/>
<rect x="975" y="278" width="5" height="5" fill="#000"/>
<rect x="976" y="279" width="3" height="3" fill="#fff"/>
<rect x="985" y="274" width="1" height="10" fill="#000"/>
<rect x="983" y="274" width="5" height="4" fill="#000"/>
<rect x="984" y="275" width="3" height="2" fill="#fff"/>
<rect x="993" y="280" width="1" height="38" fill="#000"/>
<rect x="991" y="288" width="5" height="27" fill="#000"/>
<rect x="1001" y="303" width="1" height="31" fill="#000"/>
<rect x="999" y="316" width="5" height="5" fill="#000"/>
<rect x="1000" y="317" width="3" height="3" fill="#fff"/>
<rect x="1009" y="306" width="1" height="36" fill="#000"/>
<rect x="1007" y="311" width="5" height="12" fill="#000"/>
<rect x="1008" y="312" width="3" height="10" fill="#fff"/>
<rect x="1017" y="288" width="1" height="31" fill="#000"/>
<rect x="1015" y="303" width="5" height="10" fill="#000"/>
<rect x="1016" y="304" width="3" height="8" fill="#fff"/>
<rect x="1025" y="303" width="1" height="25" fill="#000"/>
<rect x="1023" y="304" width="5" height="17" fill="#000"/>
<rect x="1024" y="305" width="3" height="15" fill="#fff"/>
<rect x="1033" y="268" width="1" height="22" fill="#000"/>
<rect x="1031" y="276" width="5" height="6" fill="#000"/>
<rect x="1041" y="281" width="1" height="56" fill="#000"/>
<rect x="1039" y="281" width="5" height="49" fill="#000"/>
<rect x="1049" y="310" width="1" height="18" fill="#000"/>
<rect x="1047" y="316" width="5" height="1" fill="#000"/>
<rect x="1057" y="305" width="1" height="20" fill="#000"/>
<rect x="1055" y="312" width="5" height="3" fill="#000"/>
<rect x="1056" y="313" width="3" height="1" fill="#fff"/>
<rect x="1065" y="270" width="1" height="28" fill="#000"/>
<rect x="1063" y="279" width="5" height="3" fill="#000"/>
<rect x="1064" y="280" width="3" height="1" fill="#fff"/>
<rect x="1073" y="281" width="1" height="89" fill="#000"/>
<rect x="1071" y="282" width="5" height="74" fill="#000"/>
<rect x="1081" y="350" width="1" height="27" fill="#000"/>
<rect x="1079" y="358" width="5" height="19" fill="#000"/>
<rect x="1089" y="348" width="1" height="36" fill="#000"/>
<rect x="1087" y="367" width="5" height="5" fill="#000"/>
<rect x="1097" y="364" width="1" height="24" fill="#000"/>
<rect x="1095" y="368" width="5" height="5" fill="#000"/>
<rect x="1096" y="369" width="3" height="3" fill="#fff"/>
<rect x="1105" y="324" width="1" height="62" fill="#000"/>
<rect x="1103" y="331" width="5" height="53" fill="#000"/>
<rect x="1104" y="332" width="3" height="51" fill="#fff"/>
<rect x="1113" y="303" width="1" height="31" fill="#000"/>
<rect x="1111" y="309" width="5" height="22" fill="#000"/>
<rect x="1112" y="310" width="3" height="20" fill="#fff"/>
<rect x="1121" y="256" width="1" height="35" fill="#000"/>
<rect x="1119" y="264" width="5" height="22" fill="#000"/>
<rect x="1129" y="278" width="1" height="15" fill="#000"/>
<rect x="1127" y="281" width="5" height="5" fill="#000"/>
<rect x="1128" y="282" width="3" height="3" fill="#fff"/>
<rect x="1137" y="265" width="1" height="33" fill="#000"/>
<rect x="1135" y="273" width="5" height="2" fill="#000"/>
<rect x="1145" y="268" width="1" height="21" fill="#000"/>
<rect x="1143" y="272" width="5" height="5" fill="#000"/>
<rect x="1153" y="201" width="1" height="48" fill="#000"/>
<rect x="1151" y="204" width="5" height="45" fill="#000"/>
<rect x="1152" y="205" width="3" height="43" fill="#fff"/>
<rect x="1161" y="196" width="1" height="25" fill="#000"/>
<rect x="1159" y="204" width="5" height="7" fill="#000"/>
<rect x="1169" y="200" width="1" height="42" fill="#000"/>
<rect x="1167" y="201" width="5" height="24" fill="#000"/>
<rect x="1168" y="202" width="3" height="22" fill="#fff"/>
<rect x="1177" y="198" width="1" height="24" fill="#000"/>
<rect x="1175" y="201" width="5" height="15" fill="#000"/>
<rect x="1185" y="187" width="1" height="25" fill="#000"/>
<rect x="1183" y="188" width="5" height="14" fill="#000"/>
<rect x="1193" y="188" width="1" height="16" fill="#000"/>
<rect x="1191" y="191" width="5" height="11" fill="#000"/>
<rect x="1192" y="192" width="3" height="9" fill="#fff"/>
<rect x="1201" y="200" width="1" height="49" fill="#000"/>
<rect x="1199" y="203" width="5" height="32" fill="#000"/>
<rect x="1209" y="232" width="1" height="11" fill="#000"/>
<rect x="1207" y="233" width="5" height="2" fill="#000"/>
<rect x="1217" y="172" width="1" height="48" fill="#000"/>
<rect x="1215" y="183" width="5" height="30" fill="#000"/>
<rect x="1216" y="184" width="3" height="28" fill="#fff"/>
<rect x="1225" y="175" width="1" height="17" fill="#000"/>
<rect x="1223" y="183" width="5" height="3" fill="#000"/>
<rect x="1233" y="173" width="1" height="34" fill="#000"/>
<rect x="1231" y="180" width="5" height="11" fill="#000"/>
<rect x="1232" y="181" width="3" height="9" fill="#fff"/>
<rect x="1241" y="165" width="1" height="19" fill="#000"/>
<rect x="1239" y="168" width="5" height="13" fill="#000"/>
<rect x="1240" y="169" width="3" height="11" fill="#fff"/>
<rect x="1249" y="154" width="1" height="41" fill="#000"/>
<rect x="1247" y="157" width="5" height="9" fill="#000"/>
<rect x="1248" y="158" width="3" height="7" fill="#fff"/>
<rect x="1257" y="158" width="1" height="32" fill="#000"/>
<rect x="1255" y="158" width="5" height="26" fill="#000"/>
<rect x="1265" y="143" width="1" height="24" fill="#000"/>
<rect x="1263" y="155" width="5" height="9" fill="#000"/>
<rect x="1264" y="156" width="3" height="7" fill="#fff"/>
<rect x="1273" y="145" width="1" height="13" fill="#000"/>
<rect x="1271" y="147" width="5" height="9" fill="#000"/>
<rect x="1272" y="148" width="3" height="7" fill="#fff"/>
<rect x="1281" y="121" width="1" height="37" fill="#000"/>
<rect x="1279" y="133" width="5" height="6" fill="#000"/>
<rect x="1289" y="132" width="1" height="14" fill="#000"/>
<rect x="1287" y="132" width="5" height="5" fill="#000"/>
<rect x="1288" y="133" width="3" height="3" fill="#fff"/>
<rect x="1297" y="129" width="1" height="42" fill="#000"/>
<rect x="1295" y="143" width="5" height="27" fill="#000"/>
<rect x="1305" y="158" width="1" height="19" fill="#000"/>
<rect x="1303" y="158" width="5" height="11" fill="#000"/>
<rect x="1304" y="159" width="3" height="9" fill="#fff"/>
<rect x="1313" y="141" width="1" height="32" fill="#000"/>
<rect x="1311" y="155" width="5" height="16" fill="#000"/>
<rect x="1312" y="156" width="3" height="14" fill="#fff"/>
<rect x="1321" y="151" width="1" height="15" fill="#000"/>
<rect x="1319" y="155" width="5" height="6" fill="#000"/>
<rect x="1329" y="147" width="1" height="26" fill="#000"/>
<rect x="1327" y="151" width="5" height="2" fill="#000"/>
<rect x="1337" y="144" width="1" height="12" fill="#000"/>
<rect x="1335" y="148" width="5" height="4" fill="#000"/>
<rect x="1336" y="149" width="3" height="2" fill="#fff"/>
<rect x="1345" y="98" width="1" height="39" fill="#000"/>
<rect x="1343" y="104" width="5" height="24" fill="#000"/>
<rect x="1344" y="105" width="3" height="22" fill="#fff"/>
<rect x="1353" y="92" width="1" height="17" fill="#000"/>
<rect x="1351" y="93" width="5" height="12" fill="#000"/>
<rect x="1352" y="94" width="3" height="10" fill="#fff"/>
</g>
<g id="paxis">
<rect x="1588" y="36" width="2" height="1" fill="#000"/>
<text x="1593" y="40" font-size="8" fill="#000" stroke="#000" stroke-width="0.2" textLength="33" lengthAdjust="spacingAndGlyphs">28130.0</text>
<rect x="1588" y="69" width="2" height="1" fill="#000"/>
<text x="1593" y="73" font-size="8" fill="#000" stroke="#000" stroke-width="0.2" textLength="33" lengthAdjust="spacingAndGlyphs">27824.0</text>
<rect x="1588" y="102" width="2" height="1" fill="#000"/>
<text x="1593" y="106" font-size="8" fill="#000" stroke="#000" stroke-width="0.2" textLength="33" lengthAdjust="spacingAndGlyphs">27518.0</text>
<rect x="1588" y="135" width="2" height="1" fill="#000"/>
<text x="1593" y="139" font-size="8" fill="#000" stroke="#000" stroke-width="0.2" textLength="33" lengthAdjust="spacingAndGlyphs">27212.0</text>
<rect x="1588" y="168" width="2" height="1" fill="#000"/>
<text x="1593" y="172" font-size="8" fill="#000" stroke="#000" stroke-width="0.2" textLength="33" lengthAdjust="spacingAndGlyphs">26906.0</text>
<rect x="1588" y="201" width="2" height="1" fill="#000"/>
<text x="1593" y="205" font-size="8" fill="#000" stroke="#000" stroke-width="0.2" textLength="33" lengthAdjust="spacingAndGlyphs">26600.0</text>
<rect x="1588" y="234" width="2" height="1" fill="#000"/>
<text x="1593" y="238" font-size="8" fill="#000" stroke="#000" stroke-width="0.2" textLength="33" lengthAdjust="spacingAndGlyphs">26294.0</text>
<rect x="1588" y="267" width="2" height="1" fill="#000"/>
<text x="1593" y="271" font-size="8" fill="#000" stroke="#000" stroke-width="0.2" textLength="33" lengthAdjust="spacingAndGlyphs">25988.0</text>
<rect x="1588" y="300" width="2" height="1" fill="#000"/>
<text x="1593" y="304" font-size="8" fill="#000" stroke="#000" stroke-width="0.2" textLength="33" lengthAdjust="spacingAndGlyphs">25682.0</text>
<rect x="1588" y="333" width="2" height="1" fill="#000"/>
<text x="1593" y="337" font-size="8" fill="#000" stroke="#000" stroke-width="0.2" textLength="33" lengthAdjust="spacingAndGlyphs">25376.0</text>
<rect x="1588" y="366" width="2" height="1" fill="#000"/>
<text x="1593" y="370" font-size="8" fill="#000" stroke="#000" stroke-width="0.2" textLength="33" lengthAdjust="spacingAndGlyphs">25070.0</text>
<rect x="1588" y="399" width="2" height="1" fill="#000"/>
<text x="1593" y="403" font-size="8" fill="#000" stroke="#000" stroke-width="0.2" textLength="33" lengthAdjust="spacingAndGlyphs">24764.0</text>
<rect x="1588" y="432" width="2" height="1" fill="#000"/>
<text x="1593" y="436" font-size="8" fill="#000" stroke="#000" stroke-width="0.2" textLength="33" lengthAdjust="spacingAndGlyphs">24458.0</text>
<rect x="1589" y="41" width="41" height="11" fill="#ff4500"/>
<text x="1593" y="50" font-size="8" fill="#fff" stroke="#fff" stroke-width="0.1" textLength="33" lengthAdjust="spacingAndGlyphs">28022.5</text>
<rect x="1589" y="67" width="41" height="11" fill="#ff4500"/>
<text x="1593" y="76" font-size="8" fill="#fff" stroke="#fff" stroke-width="0.1" textLength="33" lengthAdjust="spacingAndGlyphs">27783.4</text>
<rect x="1589" y="121" width="41" height="11" fill="#0000ff"/>
<text x="1593" y="130" font-size="8" fill="#fff" stroke="#fff" stroke-width="0.1" textLength="33" lengthAdjust="spacingAndGlyphs">27281.5</text>
<rect x="1589" y="135" width="41" height="11" fill="#0000ff"/>
<text x="1593" y="144" font-size="8" fill="#fff" stroke="#fff" stroke-width="0.1" textLength="33" lengthAdjust="spacingAndGlyphs">27151.9</text>
<rect x="1589" y="105" width="41" height="11" fill="#32cd32"/>
<text x="1593" y="114" font-size="8" fill="#fff" stroke="#fff" stroke-width="0.1" textLength="33" lengthAdjust="spacingAndGlyphs">27429.6</text>
<rect x="1589" y="87" width="41" height="11" fill="#000000"/>
<text x="1593" y="96" font-size="8" fill="#fff" stroke="#fff" stroke-width="0.1" textLength="33" lengthAdjust="spacingAndGlyphs">27603.5</text>
</g>
<path d="M4 38 L7.5 34 L11 38 Z" fill="#000"/>
<text x="16" y="38" font-size="8" fill="#000" stroke="#000" stroke-width="0.2" textLength="40.5" lengthAdjust="spacingAndGlyphs">HK50-,H4</text>
<text x="62.7" y="38" font-size="8" fill="#000" stroke="#000" stroke-width="0.2" textLength="141" lengthAdjust="spacingAndGlyphs">27496.0 27610.0 27459.5 27603.5</text>
<g id="panel">
<defs><linearGradient id="rg" x1="0" y1="46" x2="0" y2="110" gradientUnits="userSpaceOnUse">
<stop offset="0" stop-color="#fb5555"/><stop offset="0.35" stop-color="#e03030"/><stop offset="0.7" stop-color="#c81818"/><stop offset="1" stop-color="#ab0202"/></linearGradient>
<linearGradient id="bg" x1="0" y1="0" x2="0" y2="1"><stop offset="0" stop-color="#f2f2f2"/><stop offset="1" stop-color="#e2e2e2"/></linearGradient></defs>
<rect x="2" y="44" width="223" height="68" fill="#fff"/>
<path d="M4 46H56V70H113V110H4Z" fill="url(#rg)"/>
<path d="M171 46H223V110H115V70H171Z" fill="url(#rg)"/>
<path d="M4.5 46.5H55.5V70.5H112.5V109.5H4.5Z" fill="none" stroke="#8a0000" stroke-opacity="0.4" stroke-width="1"/>
<path d="M171.5 46.5H222.5V109.5H115.5V70.5H171.5Z" fill="none" stroke="#8a0000" stroke-opacity="0.4" stroke-width="1"/>
<rect x="8" y="69" width="44" height="1" fill="#960808"/>
<rect x="175" y="69" width="44" height="1" fill="#960808"/>
<rect x="58.5" y="46.5" width="110" height="21" fill="#fff" stroke="#a9adb8" stroke-width="1"/>
<rect x="59" y="47" width="20" height="20" fill="url(#bg)"/>
<rect x="148" y="47" width="20" height="20" fill="url(#bg)"/>
<rect x="79" y="47" width="1" height="20" fill="#a9adb8"/>
<rect x="147" y="47" width="1" height="20" fill="#a9adb8"/>
<path d="M66 55.5H72L69 58.5Z" fill="#000"/>
<path d="M155 58.5H161L158 55.5Z" fill="#000"/>
</g>
<text x="16" y="62" font-size="12" fill="#fff" class="lg" textLength="26" lengthAdjust="spacingAndGlyphs">SELL</text>
<text x="185" y="62" font-size="12" fill="#fff" class="lg" textLength="22" lengthAdjust="spacingAndGlyphs">BUY</text>
<text x="144" y="61" font-size="12" fill="#0a0a18" text-anchor="end" class="lg">0.10</text>
<text x="20" y="101" font-size="12" fill="#fff" font-weight="bold" class="lg" textLength="35" lengthAdjust="spacingAndGlyphs">27602</text>
<text x="130" y="101" font-size="12" fill="#fff" font-weight="bold" class="lg" textLength="35" lengthAdjust="spacingAndGlyphs">27615</text>
<text x="57.8" y="101.4" font-size="35.5" fill="#fff" class="lg" textLength="26" lengthAdjust="spacingAndGlyphs">.0</text>
<text x="168.3" y="101.4" font-size="35.5" fill="#fff" class="lg" textLength="26" lengthAdjust="spacingAndGlyphs">.0</text>
<g id="macd">
<rect x="17" y="499" width="1" height="8" fill="#c0c0c0"/>
<rect x="25" y="489" width="1" height="18" fill="#c0c0c0"/>
<rect x="33" y="487" width="1" height="20" fill="#c0c0c0"/>
<rect x="41" y="487" width="1" height="20" fill="#c0c0c0"/>
<rect x="49" y="481" width="1" height="26" fill="#c0c0c0"/>
<rect x="57" y="478" width="1" height="29" fill="#c0c0c0"/>
<rect x="65" y="477" width="1" height="30" fill="#c0c0c0"/>
<rect x="73" y="477" width="1" height="30" fill="#c0c0c0"/>
<rect x="81" y="475" width="1" height="32" fill="#c0c0c0"/>
<rect x="89" y="474" width="1" height="33" fill="#c0c0c0"/>
<rect x="97" y="481" width="1" height="26" fill="#c0c0c0"/>
<rect x="105" y="492" width="1" height="15" fill="#c0c0c0"/>
<rect x="113" y="501" width="1" height="6" fill="#c0c0c0"/>
<rect x="465" y="505" width="1" height="2" fill="#c0c0c0"/>
<rect x="473" y="499" width="1" height="8" fill="#c0c0c0"/>
<rect x="481" y="494" width="1" height="13" fill="#c0c0c0"/>
<rect x="489" y="488" width="1" height="19" fill="#c0c0c0"/>
<rect x="497" y="479" width="1" height="28" fill="#c0c0c0"/>
<rect x="505" y="475" width="1" height="32" fill="#c0c0c0"/>
<rect x="513" y="469" width="1" height="38" fill="#c0c0c0"/>
<rect x="521" y="467" width="1" height="40" fill="#c0c0c0"/>
<rect x="529" y="476" width="1" height="31" fill="#c0c0c0"/>
<rect x="537" y="485" width="1" height="22" fill="#c0c0c0"/>
<rect x="545" y="489" width="1" height="18" fill="#c0c0c0"/>
<rect x="553" y="494" width="1" height="13" fill="#c0c0c0"/>
<rect x="561" y="497" width="1" height="10" fill="#c0c0c0"/>
<rect x="569" y="497" width="1" height="10" fill="#c0c0c0"/>
<rect x="577" y="498" width="1" height="9" fill="#c0c0c0"/>
<rect x="585" y="501" width="1" height="6" fill="#c0c0c0"/>
<rect x="593" y="502" width="1" height="5" fill="#c0c0c0"/>
<rect x="601" y="497" width="1" height="10" fill="#c0c0c0"/>
<rect x="609" y="492" width="1" height="15" fill="#c0c0c0"/>
<rect x="617" y="489" width="1" height="18" fill="#c0c0c0"/>
<rect x="625" y="485" width="1" height="22" fill="#c0c0c0"/>
<rect x="633" y="482" width="1" height="25" fill="#c0c0c0"/>
<rect x="641" y="486" width="1" height="21" fill="#c0c0c0"/>
<rect x="649" y="490" width="1" height="17" fill="#c0c0c0"/>
<rect x="657" y="493" width="1" height="14" fill="#c0c0c0"/>
<rect x="665" y="494" width="1" height="13" fill="#c0c0c0"/>
<rect x="673" y="495" width="1" height="12" fill="#c0c0c0"/>
<rect x="681" y="496" width="1" height="11" fill="#c0c0c0"/>
<rect x="689" y="497" width="1" height="10" fill="#c0c0c0"/>
<rect x="697" y="498" width="1" height="9" fill="#c0c0c0"/>
<rect x="705" y="492" width="1" height="15" fill="#c0c0c0"/>
<rect x="713" y="487" width="1" height="20" fill="#c0c0c0"/>
<rect x="721" y="484" width="1" height="23" fill="#c0c0c0"/>
<rect x="729" y="484" width="1" height="23" fill="#c0c0c0"/>
<rect x="737" y="479" width="1" height="28" fill="#c0c0c0"/>
<rect x="745" y="474" width="1" height="33" fill="#c0c0c0"/>
<rect x="753" y="471" width="1" height="36" fill="#c0c0c0"/>
<rect x="761" y="471" width="1" height="36" fill="#c0c0c0"/>
<rect x="769" y="469" width="1" height="38" fill="#c0c0c0"/>
<rect x="777" y="470" width="1" height="37" fill="#c0c0c0"/>
<rect x="785" y="460" width="1" height="47" fill="#c0c0c0"/>
<rect x="793" y="453" width="1" height="54" fill="#c0c0c0"/>
<rect x="801" y="450" width="1" height="57" fill="#c0c0c0"/>
<rect x="809" y="447" width="1" height="60" fill="#c0c0c0"/>
<rect x="817" y="450" width="1" height="57" fill="#c0c0c0"/>
<rect x="825" y="456" width="1" height="51" fill="#c0c0c0"/>
<rect x="833" y="470" width="1" height="37" fill="#c0c0c0"/>
<rect x="841" y="480" width="1" height="27" fill="#c0c0c0"/>
<rect x="849" y="488" width="1" height="19" fill="#c0c0c0"/>
<rect x="857" y="496" width="1" height="11" fill="#c0c0c0"/>
<rect x="865" y="505" width="1" height="2" fill="#c0c0c0"/>
<rect x="1153" y="501" width="1" height="6" fill="#c0c0c0"/>
<rect x="1161" y="491" width="1" height="16" fill="#c0c0c0"/>
<rect x="1169" y="483" width="1" height="24" fill="#c0c0c0"/>
<rect x="1177" y="478" width="1" height="29" fill="#c0c0c0"/>
<rect x="1185" y="473" width="1" height="34" fill="#c0c0c0"/>
<rect x="1193" y="467" width="1" height="40" fill="#c0c0c0"/>
<rect x="1201" y="470" width="1" height="37" fill="#c0c0c0"/>
<rect x="1209" y="472" width="1" height="35" fill="#c0c0c0"/>
<rect x="1217" y="467" width="1" height="40" fill="#c0c0c0"/>
<rect x="1225" y="464" width="1" height="43" fill="#c0c0c0"/>
<rect x="1233" y="462" width="1" height="45" fill="#c0c0c0"/>
<rect x="1241" y="459" width="1" height="48" fill="#c0c0c0"/>
<rect x="1249" y="455" width="1" height="52" fill="#c0c0c0"/>
<rect x="1257" y="457" width="1" height="50" fill="#c0c0c0"/>
<rect x="1265" y="455" width="1" height="52" fill="#c0c0c0"/>
<rect x="1273" y="453" width="1" height="54" fill="#c0c0c0"/>
<rect x="1281" y="451" width="1" height="56" fill="#c0c0c0"/>
<rect x="1289" y="449" width="1" height="58" fill="#c0c0c0"/>
<rect x="1297" y="453" width="1" height="54" fill="#c0c0c0"/>
<rect x="1305" y="455" width="1" height="52" fill="#c0c0c0"/>
<rect x="1313" y="457" width="1" height="50" fill="#c0c0c0"/>
<rect x="1321" y="460" width="1" height="47" fill="#c0c0c0"/>
<rect x="1329" y="462" width="1" height="45" fill="#c0c0c0"/>
<rect x="1337" y="463" width="1" height="44" fill="#c0c0c0"/>
<rect x="1345" y="459" width="1" height="48" fill="#c0c0c0"/>
<rect x="1353" y="454" width="1" height="53" fill="#c0c0c0"/>
<rect x="1" y="506" width="1" height="6" fill="#c0c0c0"/>
<rect x="129" y="506" width="1" height="11" fill="#c0c0c0"/>
<rect x="137" y="506" width="1" height="20" fill="#c0c0c0"/>
<rect x="145" y="506" width="1" height="28" fill="#c0c0c0"/>
<rect x="153" y="506" width="1" height="34" fill="#c0c0c0"/>
<rect x="161" y="506" width="1" height="41" fill="#c0c0c0"/>
<rect x="169" y="506" width="1" height="48" fill="#c0c0c0"/>
<rect x="177" y="506" width="1" height="51" fill="#c0c0c0"/>
<rect x="185" y="506" width="1" height="56" fill="#c0c0c0"/>
<rect x="193" y="506" width="1" height="56" fill="#c0c0c0"/>
<rect x="201" y="506" width="1" height="57" fill="#c0c0c0"/>
<rect x="209" y="506" width="1" height="71" fill="#c0c0c0"/>
<rect x="217" y="506" width="1" height="81" fill="#c0c0c0"/>
<rect x="225" y="506" width="1" height="83" fill="#c0c0c0"/>
<rect x="233" y="506" width="1" height="82" fill="#c0c0c0"/>
<rect x="241" y="506" width="1" height="83" fill="#c0c0c0"/>
<rect x="249" y="506" width="1" height="85" fill="#c0c0c0"/>
<rect x="257" y="506" width="1" height="85" fill="#c0c0c0"/>
<rect x="265" y="506" width="1" height="84" fill="#c0c0c0"/>
<rect x="273" y="506" width="1" height="82" fill="#c0c0c0"/>
<rect x="281" y="506" width="1" height="80" fill="#c0c0c0"/>
<rect x="289" y="506" width="1" height="77" fill="#c0c0c0"/>
<rect x="297" y="506" width="1" height="73" fill="#c0c0c0"/>
<rect x="305" y="506" width="1" height="59" fill="#c0c0c0"/>
<rect x="313" y="506" width="1" height="47" fill="#c0c0c0"/>
<rect x="321" y="506" width="1" height="45" fill="#c0c0c0"/>
<rect x="329" y="506" width="1" height="47" fill="#c0c0c0"/>
<rect x="337" y="506" width="1" height="45" fill="#c0c0c0"/>
<rect x="345" y="506" width="1" height="48" fill="#c0c0c0"/>
<rect x="353" y="506" width="1" height="55" fill="#c0c0c0"/>
<rect x="361" y="506" width="1" height="59" fill="#c0c0c0"/>
<rect x="369" y="506" width="1" height="66" fill="#c0c0c0"/>
<rect x="377" y="506" width="1" height="69" fill="#c0c0c0"/>
<rect x="385" y="506" width="1" height="71" fill="#c0c0c0"/>
<rect x="393" y="506" width="1" height="70" fill="#c0c0c0"/>
<rect x="401" y="506" width="1" height="68" fill="#c0c0c0"/>
<rect x="409" y="506" width="1" height="69" fill="#c0c0c0"/>
<rect x="417" y="506" width="1" height="66" fill="#c0c0c0"/>
<rect x="425" y="506" width="1" height="63" fill="#c0c0c0"/>
<rect x="433" y="506" width="1" height="49" fill="#c0c0c0"/>
<rect x="441" y="506" width="1" height="41" fill="#c0c0c0"/>
<rect x="449" y="506" width="1" height="24" fill="#c0c0c0"/>
<rect x="457" y="506" width="1" height="4" fill="#c0c0c0"/>
<rect x="873" y="506" width="1" height="11" fill="#c0c0c0"/>
<rect x="881" y="506" width="1" height="18" fill="#c0c0c0"/>
<rect x="889" y="506" width="1" height="23" fill="#c0c0c0"/>
<rect x="897" y="506" width="1" height="20" fill="#c0c0c0"/>
<rect x="905" y="506" width="1" height="17" fill="#c0c0c0"/>
<rect x="913" y="506" width="1" height="9" fill="#c0c0c0"/>
<rect x="921" y="506" width="1" height="4" fill="#c0c0c0"/>
<rect x="929" y="506" width="1" height="5" fill="#c0c0c0"/>
<rect x="937" y="506" width="1" height="8" fill="#c0c0c0"/>
<rect x="945" y="506" width="1" height="9" fill="#c0c0c0"/>
<rect x="953" y="506" width="1" height="10" fill="#c0c0c0"/>
<rect x="961" y="506" width="1" height="13" fill="#c0c0c0"/>
<rect x="969" y="506" width="1" height="17" fill="#c0c0c0"/>
<rect x="977" y="506" width="1" height="18" fill="#c0c0c0"/>
<rect x="985" y="506" width="1" height="19" fill="#c0c0c0"/>
<rect x="993" y="506" width="1" height="24" fill="#c0c0c0"/>
<rect x="1001" y="506" width="1" height="28" fill="#c0c0c0"/>
<rect x="1009" y="506" width="1" height="31" fill="#c0c0c0"/>
<rect x="1017" y="506" width="1" height="31" fill="#c0c0c0"/>
<rect x="1025" y="506" width="1" height="31" fill="#c0c0c0"/>
<rect x="1033" y="506" width="1" height="28" fill="#c0c0c0"/>
<rect x="1041" y="506" width="1" height="31" fill="#c0c0c0"/>
<rect x="1049" y="506" width="1" height="32" fill="#c0c0c0"/>
<rect x="1057" y="506" width="1" height="31" fill="#c0c0c0"/>
<rect x="1065" y="506" width="1" height="26" fill="#c0c0c0"/>
<rect x="1073" y="506" width="1" height="32" fill="#c0c0c0"/>
<rect x="1081" y="506" width="1" height="39" fill="#c0c0c0"/>
<rect x="1089" y="506" width="1" height="43" fill="#c0c0c0"/>
<rect x="1097" y="506" width="1" height="46" fill="#c0c0c0"/>
<rect x="1105" y="506" width="1" height="42" fill="#c0c0c0"/>
<rect x="1113" y="506" width="1" height="36" fill="#c0c0c0"/>
<rect x="1121" y="506" width="1" height="28" fill="#c0c0c0"/>
<rect x="1129" y="506" width="1" height="20" fill="#c0c0c0"/>
<rect x="1137" y="506" width="1" height="13" fill="#c0c0c0"/>
<rect x="1145" y="506" width="1" height="8" fill="#c0c0c0"/>
<g fill="#ff0000"><rect x="1" y="533" width="1" height="1"/><rect x="2" y="532" width="2" height="1"/><rect x="7" y="529" width="2" height="1"/><rect x="9" y="528" width="1" height="1"/><rect x="13" y="526" width="1" height="1"/><rect x="14" y="525" width="1" height="1"/><rect x="15" y="524" width="1" height="1"/><rect x="19" y="522" width="1" height="1"/><rect x="20" y="521" width="1" height="1"/><rect x="21" y="520" width="1" height="1"/><rect x="25" y="518" width="1" height="1"/><rect x="26" y="517" width="1" height="1"/><rect x="27" y="516" width="1" height="1"/><rect x="31" y="513" width="2" height="1"/><rect x="33" y="512" width="1" height="1"/><rect x="37" y="509" width="1" height="1"/><rect x="38" y="508" width="2" height="1"/><rect x="43" y="505" width="1" height="1"/><rect x="44" y="504" width="1" height="1"/><rect x="45" y="503" width="1" height="1"/><rect x="49" y="500" width="2" height="1"/><rect x="51" y="499" width="1" height="1"/><rect x="55" y="496" width="1" height="1"/><rect x="56" y="495" width="2" height="1"/><rect x="61" y="492" width="2" height="1"/><rect x="63" y="491" width="1" height="1"/><rect x="67" y="489" width="2" height="1"/><rect x="69" y="488" width="1" height="1"/><rect x="73" y="486" width="1" height="1"/><rect x="74" y="485" width="2" height="1"/><rect x="79" y="483" width="1" height="1"/><rect x="80" y="482" width="1" height="1"/><rect x="81" y="481" width="1" height="1"/><rect x="85" y="480" width="3" height="1"/><rect x="91" y="480" width="2" height="1"/><rect x="93" y="479" width="1" height="1"/><rect x="97" y="479" width="3" height="1"/><rect x="103" y="479" width="1" height="1"/><rect x="104" y="480" width="2" height="1"/><rect x="109" y="480" width="1" height="1"/><rect x="110" y="481" width="2" height="1"/><rect x="115" y="482" width="3" height="1"/><rect x="121" y="484" width="2" height="1"/><rect x="123" y="485" width="1" height="1"/><rect x="127" y="486" width="1" height="1"/><rect x="128" y="487" width="2" height="1"/><rect x="133" y="490" width="1" height="1"/><rect x="134" y="491" width="2" height="1"/><rect x="139" y="494" width="1" height="1"/><rect x="140" y="495" width="1" height="1"/><rect x="141" y="496" width="1" height="1"/><rect x="145" y="499" width="1" height="1"/><rect x="146" y="500" width="1" height="1"/><rect x="147" y="501" width="1" height="1"/><rect x="151" y="505" width="1" height="1"/><rect x="152" y="506" width="1" height="1"/><rect x="153" y="507" width="1" height="1"/><rect x="157" y="511" width="1" height="1"/><rect x="158" y="512" width="1" height="1"/><rect x="159" y="513" width="1" height="1"/><rect x="163" y="517" width="1" height="1"/><rect x="164" y="518" width="1" height="1"/><rect x="165" y="519" width="1" height="1"/><rect x="169" y="523" width="1" height="1"/><rect x="170" y="524" width="1" height="1"/><rect x="171" y="525" width="1" height="1"/><rect x="175" y="528" width="1" height="1"/><rect x="176" y="529" width="1" height="1"/><rect x="177" y="530" width="1" height="1"/><rect x="181" y="534" width="2" height="1"/><rect x="183" y="535" width="1" height="1"/><rect x="187" y="539" width="1" height="1"/><rect x="188" y="540" width="1" height="1"/><rect x="189" y="541" width="1" height="1"/><rect x="193" y="545" width="3" height="1"/><rect x="199" y="547" width="1" height="1"/><rect x="200" y="548" width="1" height="1"/><rect x="201" y="549" width="1" height="1"/><rect x="205" y="552" width="2" height="1"/><rect x="207" y="553" width="1" height="1"/><rect x="211" y="556" width="1" height="1"/><rect x="212" y="557" width="2" height="1"/><rect x="217" y="560" width="1" height="1"/><rect x="218" y="561" width="1" height="1"/><rect x="219" y="562" width="1" height="1"/><rect x="223" y="564" width="1" height="1"/><rect x="224" y="565" width="2" height="1"/><rect x="229" y="567" width="1" height="1"/><rect x="230" y="568" width="1" height="1"/><rect x="231" y="569" width="1" height="1"/><rect x="235" y="571" width="2" height="1"/><rect x="237" y="572" width="1" height="1"/><rect x="241" y="574" width="2" height="1"/><rect x="243" y="575" width="1" height="1"/><rect x="247" y="577" width="2" height="1"/><rect x="249" y="578" width="1" height="1"/><rect x="253" y="579" width="1" height="1"/><rect x="254" y="580" width="2" height="1"/><rect x="259" y="582" width="2" height="1"/><rect x="261" y="583" width="1" height="1"/><rect x="265" y="584" width="2" height="1"/><rect x="267" y="585" width="1" height="1"/><rect x="271" y="586" width="2" height="1"/><rect x="273" y="587" width="1" height="1"/><rect x="277" y="588" width="3" height="1"/><rect x="283" y="588" width="3" height="1"/><rect x="289" y="588" width="3" height="1"/><rect x="295" y="587" width="3" height="1"/><rect x="301" y="586" width="2" height="1"/><rect x="303" y="585" width="1" height="1"/><rect x="307" y="583" width="2" height="1"/><rect x="309" y="582" width="1" height="1"/><rect x="313" y="581" width="1" height="1"/><rect x="314" y="580" width="2" height="1"/><rect x="319" y="578" width="1" height="1"/><rect x="320" y="577" width="1" height="1"/><rect x="321" y="576" width="1" height="1"/><rect x="325" y="574" width="2" height="1"/><rect x="327" y="573" width="1" height="1"/><rect x="331" y="571" width="1" height="1"/><rect x="332" y="570" width="2" height="1"/><rect x="337" y="568" width="1" height="1"/><rect x="338" y="567" width="2" height="1"/><rect x="343" y="565" width="1" height="1"/><rect x="344" y="564" width="2" height="1"/><rect x="349" y="562" width="2" height="1"/><rect x="351" y="561" width="1" height="1"/><rect x="355" y="561" width="1" height="1"/><rect x="356" y="560" width="2" height="1"/><rect x="361" y="559" width="3" height="1"/><rect x="367" y="558" width="3" height="1"/><rect x="373" y="559" width="3" height="1"/><rect x="379" y="560" width="1" height="1"/><rect x="380" y="561" width="2" height="1"/><rect x="385" y="562" width="3" height="1"/><rect x="391" y="563" width="1" height="1"/><rect x="392" y="564" width="2" height="1"/><rect x="397" y="565" width="2" height="1"/><rect x="399" y="566" width="1" height="1"/><rect x="403" y="567" width="3" height="1"/><rect x="409" y="568" width="2" height="1"/><rect x="411" y="569" width="1" height="1"/><rect x="415" y="570" width="3" height="1"/><rect x="421" y="571" width="1" height="1"/><rect x="422" y="572" width="2" height="1"/><rect x="427" y="572" width="3" height="1"/><rect x="433" y="572" width="1" height="1"/><rect x="434" y="571" width="2" height="1"/><rect x="439" y="569" width="1" height="1"/><rect x="440" y="568" width="2" height="1"/><rect x="445" y="566" width="1" height="1"/><rect x="446" y="565" width="1" height="1"/><rect x="447" y="564" width="1" height="1"/><rect x="451" y="561" width="1" height="1"/><rect x="452" y="560" width="1" height="1"/><rect x="453" y="559" width="1" height="1"/><rect x="457" y="556" width="1" height="1"/><rect x="458" y="555" width="1" height="1"/><rect x="459" y="554" width="1" height="1"/><rect x="463" y="550" width="1" height="1"/><rect x="464" y="549" width="1" height="1"/><rect x="465" y="548" width="1" height="1"/><rect x="469" y="545" width="1" height="1"/><rect x="470" y="544" width="1" height="1"/><rect x="471" y="543" width="1" height="1"/><rect x="475" y="538" width="1" height="1"/><rect x="476" y="537" width="1" height="1"/><rect x="477" y="536" width="1" height="1"/><rect x="481" y="531" width="1" height="1"/><rect x="482" y="530" width="1" height="1"/><rect x="483" y="529" width="1" height="1"/><rect x="487" y="524" width="1" height="1"/><rect x="488" y="523" width="1" height="1"/><rect x="489" y="521" width="1" height="1"/><rect x="493" y="516" width="1" height="1"/><rect x="494" y="515" width="1" height="1"/><rect x="495" y="514" width="1" height="1"/><rect x="499" y="509" width="1" height="1"/><rect x="500" y="508" width="1" height="1"/><rect x="501" y="507" width="1" height="1"/><rect x="505" y="502" width="1" height="1"/><rect x="506" y="501" width="1" height="1"/><rect x="507" y="500" width="1" height="1"/><rect x="511" y="496" width="1" height="1"/><rect x="512" y="495" width="1" height="1"/><rect x="513" y="493" width="1" height="1"/><rect x="517" y="489" width="2" height="1"/><rect x="519" y="488" width="1" height="1"/><rect x="523" y="485" width="1" height="1"/><rect x="524" y="484" width="2" height="1"/><rect x="529" y="483" width="3" height="1"/><rect x="535" y="482" width="1" height="1"/><rect x="536" y="481" width="2" height="1"/><rect x="541" y="479" width="3" height="1"/><rect x="547" y="479" width="3" height="1"/><rect x="553" y="479" width="3" height="1"/><rect x="559" y="480" width="3" height="1"/><rect x="565" y="481" width="3" height="1"/><rect x="571" y="482" width="1" height="1"/><rect x="572" y="483" width="2" height="1"/><rect x="577" y="485" width="3" height="1"/><rect x="583" y="487" width="1" height="1"/><rect x="584" y="488" width="2" height="1"/><rect x="589" y="490" width="2" height="1"/><rect x="591" y="491" width="1" height="1"/><rect x="595" y="492" width="1" height="1"/><rect x="596" y="493" width="2" height="1"/><rect x="601" y="495" width="3" height="1"/><rect x="607" y="495" width="3" height="1"/><rect x="613" y="495" width="3" height="1"/><rect x="619" y="495" width="3" height="1"/><rect x="625" y="495" width="1" height="1"/><rect x="626" y="494" width="2" height="1"/><rect x="631" y="493" width="3" height="1"/><rect x="637" y="492" width="3" height="1"/><rect x="643" y="491" width="3" height="1"/><rect x="649" y="491" width="1" height="1"/><rect x="650" y="490" width="2" height="1"/><rect x="655" y="490" width="3" height="1"/><rect x="661" y="489" width="3" height="1"/><rect x="667" y="489" width="3" height="1"/><rect x="673" y="489" width="3" height="1"/><rect x="679" y="489" width="3" height="1"/><rect x="685" y="489" width="3" height="1"/><rect x="691" y="490" width="3" height="1"/><rect x="697" y="491" width="3" height="1"/><rect x="703" y="492" width="3" height="1"/><rect x="709" y="492" width="3" height="1"/><rect x="715" y="493" width="3" height="1"/><rect x="721" y="492" width="3" height="1"/><rect x="727" y="491" width="3" height="1"/><rect x="733" y="490" width="3" height="1"/><rect x="739" y="488" width="3" height="1"/><rect x="745" y="486" width="3" height="1"/><rect x="751" y="484" width="3" height="1"/><rect x="757" y="482" width="3" height="1"/><rect x="763" y="480" width="2" height="1"/><rect x="765" y="479" width="1" height="1"/><rect x="769" y="478" width="2" height="1"/><rect x="771" y="477" width="1" height="1"/><rect x="775" y="476" width="1" height="1"/><rect x="776" y="475" width="2" height="1"/><rect x="781" y="474" width="1" height="1"/><rect x="782" y="473" width="2" height="1"/><rect x="787" y="471" width="2" height="1"/><rect x="789" y="470" width="1" height="1"/><rect x="793" y="469" width="1" height="1"/><rect x="794" y="468" width="2" height="1"/><rect x="799" y="466" width="1" height="1"/><rect x="800" y="465" width="2" height="1"/><rect x="805" y="463" width="3" height="1"/><rect x="811" y="461" width="3" height="1"/><rect x="817" y="459" width="3" height="1"/><rect x="823" y="458" width="3" height="1"/><rect x="829" y="457" width="3" height="1"/><rect x="835" y="457" width="2" height="1"/><rect x="837" y="458" width="1" height="1"/><rect x="841" y="458" width="1" height="1"/><rect x="842" y="459" width="2" height="1"/><rect x="847" y="460" width="2" height="1"/><rect x="849" y="461" width="1" height="1"/><rect x="853" y="463" width="2" height="1"/><rect x="855" y="464" width="1" height="1"/><rect x="859" y="466" width="2" height="1"/><rect x="861" y="467" width="1" height="1"/><rect x="865" y="470" width="1" height="1"/><rect x="866" y="471" width="1" height="1"/><rect x="867" y="472" width="1" height="1"/><rect x="871" y="475" width="1" height="1"/><rect x="872" y="476" width="1" height="1"/><rect x="873" y="477" width="1" height="1"/><rect x="877" y="482" width="1" height="1"/><rect x="878" y="483" width="1" height="1"/><rect x="879" y="484" width="1" height="1"/><rect x="883" y="489" width="1" height="1"/><rect x="884" y="490" width="1" height="1"/><rect x="885" y="491" width="1" height="1"/><rect x="889" y="495" width="1" height="1"/><rect x="890" y="496" width="1" height="1"/><rect x="891" y="497" width="1" height="1"/><rect x="895" y="501" width="1" height="1"/><rect x="896" y="502" width="1" height="1"/><rect x="897" y="503" width="1" height="1"/><rect x="901" y="506" width="1" height="1"/><rect x="902" y="507" width="1" height="1"/><rect x="903" y="508" width="1" height="1"/><rect x="907" y="510" width="1" height="1"/><rect x="908" y="511" width="2" height="1"/><rect x="913" y="513" width="2" height="1"/><rect x="915" y="514" width="1" height="1"/><rect x="919" y="515" width="2" height="1"/><rect x="921" y="516" width="1" height="1"/><rect x="925" y="517" width="3" height="1"/><rect x="931" y="518" width="3" height="1"/><rect x="937" y="518" width="3" height="1"/><rect x="943" y="519" width="3" height="1"/><rect x="949" y="518" width="3" height="1"/><rect x="955" y="518" width="3" height="1"/><rect x="961" y="517" width="3" height="1"/><rect x="967" y="516" width="3" height="1"/><rect x="973" y="516" width="3" height="1"/><rect x="979" y="516" width="3" height="1"/><rect x="985" y="517" width="3" height="1"/><rect x="991" y="518" width="1" height="1"/><rect x="992" y="519" width="2" height="1"/><rect x="997" y="520" width="1" height="1"/><rect x="998" y="521" width="2" height="1"/><rect x="1003" y="522" width="1" height="1"/><rect x="1004" y="523" width="2" height="1"/><rect x="1009" y="524" width="1" height="1"/><rect x="1010" y="525" width="2" height="1"/><rect x="1015" y="526" width="1" height="1"/><rect x="1016" y="527" width="2" height="1"/><rect x="1021" y="528" width="1" height="1"/><rect x="1022" y="529" width="2" height="1"/><rect x="1027" y="530" width="3" height="1"/><rect x="1033" y="531" width="3" height="1"/><rect x="1039" y="532" width="3" height="1"/><rect x="1045" y="533" width="3" height="1"/><rect x="1051" y="534" width="3" height="1"/><rect x="1057" y="535" width="3" height="1"/><rect x="1063" y="536" width="3" height="1"/><rect x="1069" y="536" width="3" height="1"/><rect x="1075" y="537" width="3" height="1"/><rect x="1081" y="537" width="3" height="1"/><rect x="1087" y="538" width="3" height="1"/><rect x="1093" y="539" width="2" height="1"/><rect x="1095" y="540" width="1" height="1"/><rect x="1099" y="540" width="2" height="1"/><rect x="1101" y="541" width="1" height="1"/><rect x="1105" y="541" width="1" height="1"/><rect x="1106" y="542" width="2" height="1"/><rect x="1111" y="542" width="3" height="1"/><rect x="1117" y="542" width="3" height="1"/><rect x="1123" y="541" width="3" height="1"/><rect x="1129" y="540" width="3" height="1"/><rect x="1135" y="539" width="3" height="1"/><rect x="1141" y="538" width="1" height="1"/><rect x="1142" y="537" width="2" height="1"/><rect x="1147" y="535" width="2" height="1"/><rect x="1149" y="534" width="1" height="1"/><rect x="1153" y="531" width="2" height="1"/><rect x="1155" y="530" width="1" height="1"/><rect x="1159" y="527" width="1" height="1"/><rect x="1160" y="526" width="1" height="1"/><rect x="1161" y="525" width="1" height="1"/><rect x="1165" y="521" width="1" height="1"/><rect x="1166" y="520" width="1" height="1"/><rect x="1167" y="519" width="1" height="1"/><rect x="1171" y="515" width="1" height="1"/><rect x="1172" y="514" width="1" height="1"/><rect x="1173" y="513" width="1" height="1"/><rect x="1177" y="509" width="1" height="1"/><rect x="1178" y="508" width="1" height="1"/><rect x="1179" y="507" width="1" height="1"/><rect x="1183" y="503" width="1" height="1"/><rect x="1184" y="502" width="1" height="1"/><rect x="1185" y="501" width="1" height="1"/><rect x="1189" y="498" width="1" height="1"/><rect x="1190" y="497" width="1" height="1"/><rect x="1191" y="496" width="1" height="1"/><rect x="1195" y="492" width="2" height="1"/><rect x="1197" y="491" width="1" height="1"/><rect x="1201" y="488" width="1" height="1"/><rect x="1202" y="487" width="1" height="1"/><rect x="1203" y="486" width="1" height="1"/><rect x="1207" y="483" width="2" height="1"/><rect x="1209" y="482" width="1" height="1"/><rect x="1213" y="479" width="2" height="1"/><rect x="1215" y="478" width="1" height="1"/><rect x="1219" y="476" width="1" height="1"/><rect x="1220" y="475" width="2" height="1"/><rect x="1225" y="473" width="1" height="1"/><rect x="1226" y="472" width="2" height="1"/><rect x="1231" y="470" width="2" height="1"/><rect x="1233" y="469" width="1" height="1"/><rect x="1237" y="468" width="1" height="1"/><rect x="1238" y="467" width="2" height="1"/><rect x="1243" y="466" width="3" height="1"/><rect x="1249" y="464" width="3" height="1"/><rect x="1255" y="463" width="3" height="1"/><rect x="1261" y="462" width="1" height="1"/><rect x="1262" y="461" width="2" height="1"/><rect x="1267" y="460" width="3" height="1"/><rect x="1273" y="459" width="2" height="1"/><rect x="1275" y="458" width="1" height="1"/><rect x="1279" y="457" width="3" height="1"/><rect x="1285" y="456" width="3" height="1"/><rect x="1291" y="455" width="3" height="1"/><rect x="1297" y="454" width="3" height="1"/><rect x="1303" y="453" width="3" height="1"/><rect x="1309" y="453" width="3" height="1"/><rect x="1315" y="453" width="3" height="1"/><rect x="1321" y="453" width="3" height="1"/><rect x="1327" y="454" width="3" height="1"/><rect x="1333" y="454" width="3" height="1"/><rect x="1339" y="454" width="1" height="1"/><rect x="1340" y="455" width="2" height="1"/><rect x="1345" y="455" width="3" height="1"/><rect x="1351" y="456" width="3" height="1"/></g>
</g>
<text x="5" y="450" font-size="8" fill="#000" stroke="#000" stroke-width="0.2" textLength="66" lengthAdjust="spacingAndGlyphs">MACD(12,26,9)</text>
<text x="74" y="450" font-size="8" fill="#000" stroke="#000" stroke-width="0.2" textLength="59" lengthAdjust="spacingAndGlyphs">293.14 279.19</text>
<rect x="1588" y="439" width="1" height="1" fill="#000"/>
<text x="1591" y="448" font-size="8" fill="#000" stroke="#000" stroke-width="0.2" textLength="28" lengthAdjust="spacingAndGlyphs">376.07</text>
<rect x="1588" y="506" width="2" height="1" fill="#000"/>
<text x="1591" y="510" font-size="8" fill="#000" stroke="#000" stroke-width="0.2" textLength="18" lengthAdjust="spacingAndGlyphs">0.00</text>
<rect x="1588" y="598" width="1" height="1" fill="#000"/>
<text x="1591" y="596" font-size="8" fill="#000" stroke="#000" stroke-width="0.2" textLength="31" lengthAdjust="spacingAndGlyphs">-517.93</text>
<g id="rsi">
<line x1="2" y1="632.5" x2="1585" y2="632.5" stroke="#c0c0c0" stroke-width="1" stroke-dasharray="3 3" shape-rendering="crispEdges"/>
<line x1="2" y1="676.5" x2="1585" y2="676.5" stroke="#c0c0c0" stroke-width="1" stroke-dasharray="3 3" shape-rendering="crispEdges"/>
<line x1="2" y1="728.5" x2="1585" y2="728.5" stroke="#c0c0c0" stroke-width="1" stroke-dasharray="3 3" shape-rendering="crispEdges"/>
<polyline points="1.5,668.0 9.5,666.3 17.5,659.2 25.5,654.2 33.5,666.7 41.5,671.2 49.5,659.2 57.5,664.2 65.5,667.3 73.5,667.3 81.5,662.2 89.5,662.8 97.5,681.3 105.5,689.3 113.5,689.3 121.5,686.0 129.5,696.0 137.5,697.2 145.5,698.3 153.5,699.3 161.5,702.5 169.5,705.3 177.5,699.5 185.5,704.3 193.5,695.2 201.5,698.3 209.5,713.3 217.5,714.3 225.5,700.8 233.5,697.2 241.5,700.3 249.5,703.3 257.5,703.3 265.5,701.3 273.5,701.3 281.5,700.3 289.5,701.3 297.5,696.7 305.5,671.7 313.5,672.5 321.5,687.0 329.5,693.0 337.5,686.7 345.5,693.0 353.5,701.2 361.5,697.2 369.5,702.2 377.5,700.3 385.5,699.2 393.5,697.2 401.5,696.3 409.5,700.2 417.5,694.2 425.5,688.0 433.5,673.3 441.5,675.0 449.5,660.3 457.5,652.5 465.5,670.0 473.5,668.3 481.5,668.3 489.5,665.0 497.5,659.5 505.5,665.0 513.5,661.2 521.5,664.7 529.5,680.3 537.5,682.3 545.5,677.5 553.5,680.3 561.5,679.2 569.5,673.3 577.5,676.3 585.5,680.0 593.5,676.3 601.5,668.3 609.5,665.3 617.5,667.3 625.5,664.3 633.5,663.3 641.5,677.3 649.5,678.3 657.5,678.3 665.5,674.3 673.5,674.3 681.5,674.3 689.5,675.3 697.5,675.0 705.5,660.3 713.5,659.3 721.5,662.3 729.5,665.3 737.5,656.3 745.5,655.2 753.5,653.3 761.5,664.3 769.5,658.3 777.5,664.3 785.5,647.3 793.5,647.3 801.5,652.3 809.5,650.3 817.5,664.7 825.5,668.7 833.5,687.0 841.5,685.3 849.5,682.3 857.5,687.0 865.5,695.3 873.5,694.3 881.5,695.3 889.5,694.2 897.5,678.3 905.5,676.3 913.5,667.3 921.5,669.2 929.5,680.3 937.5,683.3 945.5,681.3 953.5,681.3 961.5,688.0 969.5,689.3 977.5,686.7 985.5,685.3 993.5,695.3 1001.5,696.3 1009.5,693.3 1017.5,690.3 1025.5,690.3 1033.5,681.3 1041.5,694.3 1049.5,690.3 1057.5,688.3 1065.5,676.7 1073.5,695.3 1081.5,699.3 1089.5,697.3 1097.5,696.3 1105.5,684.3 1113.5,678.0 1121.5,672.3 1129.5,670.0 1137.5,668.3 1145.5,670.3 1153.5,653.3 1161.5,655.3 1169.5,654.3 1177.5,659.3 1185.5,656.3 1193.5,654.3 1201.5,669.3 1209.5,668.3 1217.5,657.3 1225.5,658.3 1233.5,657.3 1241.5,654.3 1249.5,652.3 1257.5,662.3 1265.5,656.3 1273.5,654.3 1281.5,652.3 1289.5,651.2 1297.5,665.4 1305.5,662.5 1313.5,662.5 1321.5,664.7 1329.5,661.4 1337.5,660.0 1345.5,649.0 1353.5,647.0" fill="none" stroke="#1e90ff" stroke-width="1" shape-rendering="crispEdges"/>
</g>
<text x="5" y="614" font-size="8" fill="#000" stroke="#000" stroke-width="0.2" textLength="32.3" lengthAdjust="spacingAndGlyphs">RSI(14)</text>
<text x="40.3" y="614" font-size="8" fill="#000" stroke="#000" stroke-width="0.2" textLength="33" lengthAdjust="spacingAndGlyphs">70.1316</text>
<rect x="1588" y="603" width="1" height="1" fill="#000"/>
<text x="1591" y="612" font-size="8" fill="#000" stroke="#000" stroke-width="0.2" textLength="15" lengthAdjust="spacingAndGlyphs">100</text>
<rect x="1588" y="632" width="2" height="1" fill="#000"/>
<text x="1591" y="636" font-size="8" fill="#000" stroke="#000" stroke-width="0.2" textLength="10" lengthAdjust="spacingAndGlyphs">80</text>
<rect x="1588" y="676" width="2" height="1" fill="#000"/>
<text x="1591" y="680" font-size="8" fill="#000" stroke="#000" stroke-width="0.2" textLength="10" lengthAdjust="spacingAndGlyphs">50</text>
<rect x="1588" y="728" width="2" height="1" fill="#000"/>
<text x="1591" y="732" font-size="8" fill="#000" stroke="#000" stroke-width="0.2" textLength="10" lengthAdjust="spacingAndGlyphs">15</text>
<rect x="1588" y="749" width="1" height="1" fill="#000"/>
<text x="1591" y="748" font-size="8" fill="#000" stroke="#000" stroke-width="0.2" textLength="5" lengthAdjust="spacingAndGlyphs">0</text>
<rect x="1" y="752" width="1" height="3" fill="#000"/>
<text x="1" y="764" font-size="8" fill="#000" stroke="#000" stroke-width="0.2" textLength="50.5" lengthAdjust="spacingAndGlyphs">20 Sep 2018</text>
<rect x="65" y="752" width="1" height="3" fill="#000"/>
<text x="65" y="764" font-size="8" fill="#000" stroke="#000" stroke-width="0.2" textLength="53.5" lengthAdjust="spacingAndGlyphs">27 Sep 01:15</text>
<rect x="129" y="752" width="1" height="3" fill="#000"/>
<text x="129" y="764" font-size="8" fill="#000" stroke="#000" stroke-width="0.2" textLength="47.5" lengthAdjust="spacingAndGlyphs">4 Oct 01:15</text>
<rect x="193" y="752" width="1" height="3" fill="#000"/>
<text x="193" y="764" font-size="8" fill="#000" stroke="#000" stroke-width="0.2" textLength="52.5" lengthAdjust="spacingAndGlyphs">10 Oct 01:15</text>
<rect x="257" y="752" width="1" height="3" fill="#000"/>
<text x="257" y="764" font-size="8" fill="#000" stroke="#000" stroke-width="0.2" textLength="52.5" lengthAdjust="spacingAndGlyphs">16 Oct 01:15</text>
<rect x="321" y="752" width="1" height="3" fill="#000"/>
<text x="321" y="764" font-size="8" fill="#000" stroke="#000" stroke-width="0.2" textLength="52.5" lengthAdjust="spacingAndGlyphs">23 Oct 01:15</text>
<rect x="385" y="752" width="1" height="3" fill="#000"/>
<text x="385" y="764" font-size="8" fill="#000" stroke="#000" stroke-width="0.2" textLength="52.5" lengthAdjust="spacingAndGlyphs">29 Oct 01:15</text>
<rect x="449" y="752" width="1" height="3" fill="#000"/>
<text x="449" y="764" font-size="8" fill="#000" stroke="#000" stroke-width="0.2" textLength="50.5" lengthAdjust="spacingAndGlyphs">2 Nov 01:15</text>
<rect x="513" y="752" width="1" height="3" fill="#000"/>
<text x="513" y="764" font-size="8" fill="#000" stroke="#000" stroke-width="0.2" textLength="50.5" lengthAdjust="spacingAndGlyphs">8 Nov 01:15</text>
<rect x="577" y="752" width="1" height="3" fill="#000"/>
<text x="577" y="764" font-size="8" fill="#000" stroke="#000" stroke-width="0.2" textLength="55.5" lengthAdjust="spacingAndGlyphs">14 Nov 01:15</text>
<rect x="641" y="752" width="1" height="3" fill="#000"/>
<text x="641" y="764" font-size="8" fill="#000" stroke="#000" stroke-width="0.2" textLength="55.5" lengthAdjust="spacingAndGlyphs">20 Nov 01:15</text>
<rect x="705" y="752" width="1" height="3" fill="#000"/>
<text x="705" y="764" font-size="8" fill="#000" stroke="#000" stroke-width="0.2" textLength="55.5" lengthAdjust="spacingAndGlyphs">26 Nov 01:15</text>
<rect x="769" y="752" width="1" height="3" fill="#000"/>
<text x="769" y="764" font-size="8" fill="#000" stroke="#000" stroke-width="0.2" textLength="55.5" lengthAdjust="spacingAndGlyphs">30 Nov 01:15</text>
<rect x="833" y="752" width="1" height="3" fill="#000"/>
<text x="833" y="764" font-size="8" fill="#000" stroke="#000" stroke-width="0.2" textLength="49.5" lengthAdjust="spacingAndGlyphs">6 Dec 01:15</text>
<rect x="897" y="752" width="1" height="3" fill="#000"/>
<text x="897" y="764" font-size="8" fill="#000" stroke="#000" stroke-width="0.2" textLength="54.5" lengthAdjust="spacingAndGlyphs">12 Dec 01:15</text>
<rect x="961" y="752" width="1" height="3" fill="#000"/>
<text x="961" y="764" font-size="8" fill="#000" stroke="#000" stroke-width="0.2" textLength="54.5" lengthAdjust="spacingAndGlyphs">18 Dec 01:15</text>
<rect x="1025" y="752" width="1" height="3" fill="#000"/>
<text x="1025" y="764" font-size="8" fill="#000" stroke="#000" stroke-width="0.2" textLength="54.5" lengthAdjust="spacingAndGlyphs">24 Dec 01:15</text>
<rect x="1089" y="752" width="1" height="3" fill="#000"/>
<text x="1089" y="764" font-size="8" fill="#000" stroke="#000" stroke-width="0.2" textLength="47.5" lengthAdjust="spacingAndGlyphs">3 Jan 01:15</text>
<rect x="1153" y="752" width="1" height="3" fill="#000"/>
<text x="1153" y="764" font-size="8" fill="#000" stroke="#000" stroke-width="0.2" textLength="47.5" lengthAdjust="spacingAndGlyphs">9 Jan 01:15</text>
<rect x="1217" y="752" width="1" height="3" fill="#000"/>
<text x="1217" y="764" font-size="8" fill="#000" stroke="#000" stroke-width="0.2" textLength="52.5" lengthAdjust="spacingAndGlyphs">15 Jan 01:15</text>
<rect x="1281" y="752" width="1" height="3" fill="#000"/>
<text x="1281" y="764" font-size="8" fill="#000" stroke="#000" stroke-width="0.2" textLength="52.5" lengthAdjust="spacingAndGlyphs">21 Jan 01:15</text>
<rect x="1345" y="752" width="1" height="3" fill="#000"/>
<text x="1345" y="764" font-size="8" fill="#000" stroke="#000" stroke-width="0.2" textLength="52.5" lengthAdjust="spacingAndGlyphs">25 Jan 01:15</text>
</svg>
</body></html>
